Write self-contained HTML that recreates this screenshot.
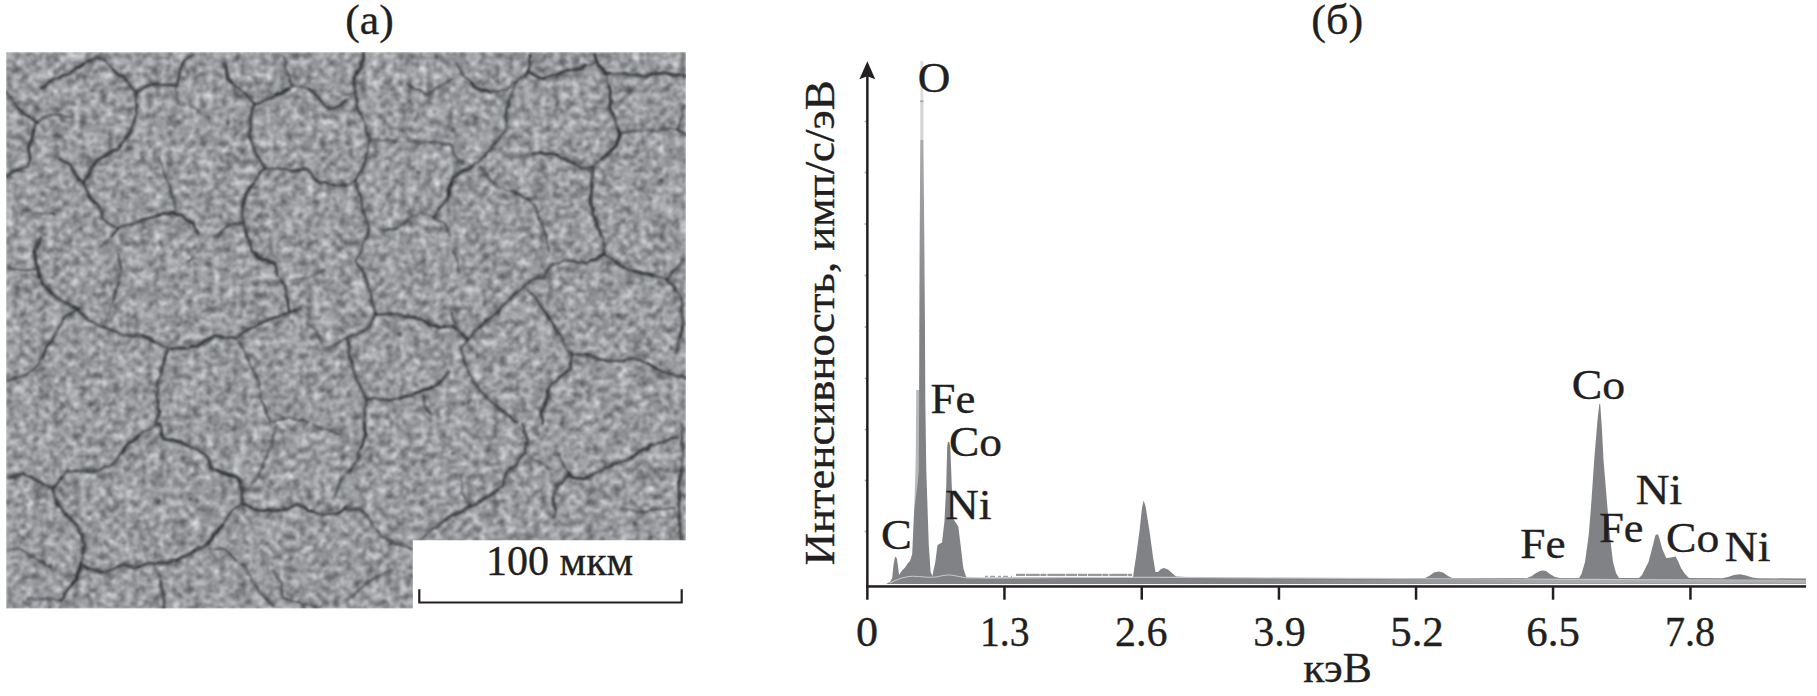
<!DOCTYPE html>
<html lang="ru"><head><meta charset="utf-8"><title>Figure</title>
<style>
html,body{margin:0;padding:0;background:#fff;}
body{width:1817px;height:696px;overflow:hidden;}
svg{display:block;}
text{font-family:"Liberation Serif",serif;font-size:42px;fill:#231f20;stroke:#231f20;stroke-width:0.35px;}
</style></head><body>
<svg width="1817" height="696" viewBox="0 0 1817 696">
<defs>
<filter id="tex" x="0" y="0" width="100%" height="100%" color-interpolation-filters="sRGB">
<feTurbulence type="fractalNoise" baseFrequency="0.15" numOctaves="3" seed="11" result="n1"/>
<feTurbulence type="fractalNoise" baseFrequency="0.06" numOctaves="2" seed="4" result="n2"/>
<feComposite in="n1" in2="n2" operator="arithmetic" k1="0" k2="0.7" k3="0.3" k4="0" result="n"/>
<feColorMatrix in="n" type="matrix" values="0.86 0 0 0 0.167  0.86 0 0 0 0.175  0.86 0 0 0 0.187  0 0 0 0 1" result="g"/>
<feGaussianBlur in="g" stdDeviation="0.85"/>
</filter>
<filter id="soft" filterUnits="userSpaceOnUse" x="0" y="40" width="700" height="580"><feGaussianBlur stdDeviation="0.85"/></filter>
<filter id="soft2" filterUnits="userSpaceOnUse" x="850" y="50" width="967" height="550"><feGaussianBlur stdDeviation="0.55"/></filter>
<linearGradient id="og" gradientUnits="userSpaceOnUse" x1="0" y1="140" x2="0" y2="331"><stop offset="0" stop-color="#a8aaad"/><stop offset="1" stop-color="#808285"/></linearGradient>
<linearGradient id="lb" gradientUnits="userSpaceOnUse" x1="1250" y1="0" x2="1806" y2="0"><stop offset="0" stop-color="#b3b5b7" stop-opacity="0"/><stop offset="0.55" stop-color="#b3b5b7" stop-opacity="0.8"/><stop offset="1" stop-color="#b3b5b7" stop-opacity="0.9"/></linearGradient>
<clipPath id="imgclip"><path d="M6 52H686V540.3H412.8V608.6H6Z"/></clipPath>
</defs>
<rect width="1817" height="696" fill="#fff"/>
<!-- SEM image -->
<g clip-path="url(#imgclip)">
<rect x="6" y="52" width="680" height="557" fill="#959799" filter="url(#tex)"/>
<g fill="none" stroke="#2b2c2e" stroke-opacity="0.8" stroke-linejoin="round" stroke-linecap="round" filter="url(#soft)">
<path d="M6.0 92.1 L8.3 94.9 L11.7 98.3 L14.0 102.8 L16.8 105.6 L18.4 109.0 L22.0 112.1 L25.0 114.7 L29.1 116.6 L34.1 120.2 L38.1 122.8" stroke-width="5.3" stroke-opacity="0.16"/>
<path d="M6.0 92.1 L8.3 94.9 L11.7 98.3 L14.0 102.8 L16.8 105.6 L18.4 109.0" stroke-width="1.4" stroke-opacity="0.77"/>
<path d="M18.4 109.0 L22.0 112.1 L25.0 114.7 L29.1 116.6" stroke-width="2.6" stroke-opacity="0.77"/>
<path d="M29.1 116.6 L34.1 120.2 L38.1 122.8" stroke-width="2.5" stroke-opacity="0.72"/>
<path d="M37.5 122.0 L42.9 118.1 L46.1 116.2 L51.3 115.2 L54.2 114.4 L59.5 114.8 L63.5 116.4 L67.7 116.8 L72.8 117.5" stroke-width="4.3" stroke-opacity="0.10"/>
<path d="M37.5 122.0 L42.9 118.1 L46.1 116.2 L51.3 115.2" stroke-width="1.7" stroke-opacity="0.59"/>
<path d="M51.3 115.2 L54.2 114.4 L59.5 114.8" stroke-width="2.0" stroke-opacity="0.60"/>
<path d="M59.5 114.8 L63.5 116.4 L67.7 116.8 L72.8 117.5" stroke-width="2.2" stroke-opacity="0.56"/>
<path d="M35.9 122.8 L34.5 127.0 L33.7 130.4 L32.7 134.9 L31.4 140.6 L28.7 145.6 L28.6 150.2 L29.7 155.3 L30.1 158.9 L29.2 162.5 L27.4 166.9 L24.0 167.4 L18.3 170.2 L14.0 170.9 L9.9 173.6 L7.3 176.3" stroke-width="5.8" stroke-opacity="0.16"/>
<path d="M35.9 122.8 L34.5 127.0 L33.7 130.4" stroke-width="3.5" stroke-opacity="0.62"/>
<path d="M33.7 130.4 L32.7 134.9 L31.4 140.6 L28.7 145.6 L28.6 150.2 L29.7 155.3 L30.1 158.9" stroke-width="2.7" stroke-opacity="0.86"/>
<path d="M30.1 158.9 L29.2 162.5 L27.4 166.9 L24.0 167.4 L18.3 170.2" stroke-width="2.2" stroke-opacity="0.71"/>
<path d="M18.3 170.2 L14.0 170.9 L9.9 173.6 L7.3 176.3" stroke-width="2.7" stroke-opacity="0.74"/>
<path d="M40.7 88.1 L44.8 86.7 L47.4 83.8 L49.8 81.5 L54.1 78.7 L58.4 78.5 L62.8 75.6 L65.9 75.1 L70.2 73.4 L72.4 71.0 L76.1 67.9 L79.2 67.0 L83.5 64.0 L87.2 61.2 L92.2 60.4 L96.9 57.3 L100.0 58.6 L104.9 60.0 L107.7 63.9 L110.9 66.8 L112.4 68.9 L115.6 72.0 L118.8 75.6 L123.7 76.6 L126.3 80.1 L128.7 83.5 L131.9 88.1 L135.6 92.1 L136.3 96.0 L135.4 100.8 L137.0 105.5 L136.0 109.6 L136.6 113.9 L135.0 117.7 L134.3 121.5 L132.7 124.5 L131.2 130.1 L129.1 134.2 L126.3 137.5 L123.4 141.3 L120.1 145.8 L118.3 149.6 L112.8 150.8 L108.7 153.3 L104.9 156.2 L101.0 157.9 L96.7 160.8 L94.2 164.3 L90.7 169.3 L88.9 175.0 L85.1 179.8 L83.5 183.0" stroke-width="5.3" stroke-opacity="0.16"/>
<path d="M40.7 88.1 L44.8 86.7 L47.4 83.8 L49.8 81.5 L54.1 78.7 L58.4 78.5 L62.8 75.6" stroke-width="2.1" stroke-opacity="0.79"/>
<path d="M62.8 75.6 L65.9 75.1 L70.2 73.4 L72.4 71.0 L76.1 67.9" stroke-width="2.5" stroke-opacity="0.74"/>
<path d="M76.1 67.9 L79.2 67.0 L83.5 64.0" stroke-width="3.0" stroke-opacity="0.90"/>
<path d="M83.5 64.0 L87.2 61.2 L92.2 60.4 L96.9 57.3 L100.0 58.6 L104.9 60.0" stroke-width="2.3" stroke-opacity="0.69"/>
<path d="M104.9 60.0 L107.7 63.9 L110.9 66.8 L112.4 68.9" stroke-width="1.5" stroke-opacity="0.70"/>
<path d="M112.4 68.9 L115.6 72.0 L118.8 75.6 L123.7 76.6 L126.3 80.1" stroke-width="2.3" stroke-opacity="0.81"/>
<path d="M126.3 80.1 L128.7 83.5 L131.9 88.1 L135.6 92.1 L136.3 96.0 L135.4 100.8 L137.0 105.5" stroke-width="1.4" stroke-opacity="0.89"/>
<path d="M137.0 105.5 L136.0 109.6 L136.6 113.9 L135.0 117.7 L134.3 121.5 L132.7 124.5 L131.2 130.1" stroke-width="2.0" stroke-opacity="0.81"/>
<path d="M131.2 130.1 L129.1 134.2 L126.3 137.5" stroke-width="2.8" stroke-opacity="0.69"/>
<path d="M126.3 137.5 L123.4 141.3 L120.1 145.8" stroke-width="2.7" stroke-opacity="0.68"/>
<path d="M120.1 145.8 L118.3 149.6 L112.8 150.8 L108.7 153.3 L104.9 156.2" stroke-width="3.1" stroke-opacity="0.71"/>
<path d="M104.9 156.2 L101.0 157.9 L96.7 160.8 L94.2 164.3" stroke-width="2.4" stroke-opacity="0.83"/>
<path d="M94.2 164.3 L90.7 169.3 L88.9 175.0 L85.1 179.8 L83.5 183.0" stroke-width="2.6" stroke-opacity="0.78"/>
<path d="M59.5 158.9 L65.4 162.2 L70.2 164.3 L71.7 167.7 L74.4 173.0 L76.8 176.3 L79.5 179.6 L83.5 183.0 L85.8 188.5 L87.7 191.8 L88.9 196.3 L91.3 199.2 L94.8 202.4 L98.2 204.4 L100.0 208.5 L101.9 212.3 L102.2 217.7 L107.6 223.1 L112.0 225.7 L118.3 228.4 L114.6 232.4 L111.6 236.4" stroke-width="5.3" stroke-opacity="0.16"/>
<path d="M59.5 158.9 L65.4 162.2 L70.2 164.3 L71.7 167.7 L74.4 173.0 L76.8 176.3 L79.5 179.6" stroke-width="3.0" stroke-opacity="0.74"/>
<path d="M79.5 179.6 L83.5 183.0 L85.8 188.5 L87.7 191.8 L88.9 196.3" stroke-width="2.9" stroke-opacity="0.63"/>
<path d="M88.9 196.3 L91.3 199.2 L94.8 202.4" stroke-width="3.1" stroke-opacity="0.83"/>
<path d="M94.8 202.4 L98.2 204.4 L100.0 208.5 L101.9 212.3" stroke-width="2.3" stroke-opacity="0.65"/>
<path d="M101.9 212.3 L102.2 217.7 L107.6 223.1 L112.0 225.7 L118.3 228.4" stroke-width="1.5" stroke-opacity="0.88"/>
<path d="M118.3 228.4 L114.6 232.4 L111.6 236.4" stroke-width="2.2" stroke-opacity="0.82"/>
<path d="M118.3 228.4 L121.8 226.3 L128.3 224.7 L131.6 224.4 L136.3 222.5 L140.9 221.1 L145.0 219.1 L150.6 217.7 L155.7 216.4 L160.7 214.6 L163.8 213.3 L168.4 213.9 L171.7 212.4 L176.2 214.3 L182.4 215.1 L185.2 218.8 L188.9 221.2 L193.1 223.1 L194.7 227.8 L198.5 233.8" stroke-width="4.8" stroke-opacity="0.16"/>
<path d="M118.3 228.4 L121.8 226.3 L128.3 224.7 L131.6 224.4 L136.3 222.5 L140.9 221.1 L145.0 219.1" stroke-width="1.6" stroke-opacity="0.78"/>
<path d="M145.0 219.1 L150.6 217.7 L155.7 216.4 L160.7 214.6 L163.8 213.3" stroke-width="2.2" stroke-opacity="0.85"/>
<path d="M163.8 213.3 L168.4 213.9 L171.7 212.4" stroke-width="2.8" stroke-opacity="0.71"/>
<path d="M171.7 212.4 L176.2 214.3 L182.4 215.1 L185.2 218.8 L188.9 221.2 L193.1 223.1" stroke-width="2.4" stroke-opacity="0.84"/>
<path d="M193.1 223.1 L194.7 227.8 L198.5 233.8" stroke-width="2.0" stroke-opacity="0.88"/>
<path d="M137.0 92.1 L141.0 89.5 L145.0 86.7 L149.5 84.8 L153.8 84.3 L158.4 84.1 L161.9 85.1 L167.0 84.7 L172.9 85.2 L177.1 85.4 L177.7 81.1 L179.2 77.4 L179.2 72.5 L181.1 68.0 L183.8 61.4 L187.9 57.5 L193.1 54.7" stroke-width="5.3" stroke-opacity="0.16"/>
<path d="M137.0 92.1 L141.0 89.5 L145.0 86.7" stroke-width="2.3" stroke-opacity="0.77"/>
<path d="M145.0 86.7 L149.5 84.8 L153.8 84.3" stroke-width="2.2" stroke-opacity="0.78"/>
<path d="M153.8 84.3 L158.4 84.1 L161.9 85.1 L167.0 84.7 L172.9 85.2 L177.1 85.4 L177.7 81.1" stroke-width="2.5" stroke-opacity="0.66"/>
<path d="M177.7 81.1 L179.2 77.4 L179.2 72.5 L181.1 68.0 L183.8 61.4" stroke-width="2.2" stroke-opacity="0.76"/>
<path d="M183.8 61.4 L187.9 57.5 L193.1 54.7" stroke-width="2.3" stroke-opacity="0.67"/>
<path d="M158.4 156.2 L159.7 161.1 L162.0 165.2 L163.2 167.6 L163.7 172.3 L165.3 176.1 L166.8 179.9 L169.1 184.2 L170.4 188.3 L171.1 192.3 L172.2 197.8 L174.4 201.7 L175.4 207.3 L174.4 212.4" stroke-width="4.3" stroke-opacity="0.10"/>
<path d="M158.4 156.2 L159.7 161.1 L162.0 165.2 L163.2 167.6 L163.7 172.3" stroke-width="1.3" stroke-opacity="0.67"/>
<path d="M163.7 172.3 L165.3 176.1 L166.8 179.9 L169.1 184.2 L170.4 188.3 L171.1 192.3" stroke-width="1.4" stroke-opacity="0.69"/>
<path d="M171.1 192.3 L172.2 197.8 L174.4 201.7 L175.4 207.3 L174.4 212.4" stroke-width="2.5" stroke-opacity="0.49"/>
<path d="M225.2 65.4 L226.4 69.2 L227.4 75.4 L227.9 78.7 L231.7 82.6 L235.9 86.7 L239.1 88.5 L242.7 91.7 L246.6 94.8 L249.1 98.3 L251.7 101.0 L254.6 104.1 L258.6 103.4 L262.6 101.5 L267.9 98.8 L271.8 97.8 L275.9 94.7 L281.3 93.4 L285.8 90.1 L289.0 88.8 L292.0 85.4 L298.1 86.5 L302.7 86.7 L309.0 89.2 L313.4 92.1 L316.1 95.2 L318.7 98.0 L321.4 101.4 L324.9 106.1 L329.4 109.5 L334.1 108.3 L340.1 105.5 L346.0 100.1" stroke-width="5.3" stroke-opacity="0.16"/>
<path d="M225.2 65.4 L226.4 69.2 L227.4 75.4 L227.9 78.7 L231.7 82.6" stroke-width="3.2" stroke-opacity="0.79"/>
<path d="M231.7 82.6 L235.9 86.7 L239.1 88.5 L242.7 91.7 L246.6 94.8" stroke-width="1.5" stroke-opacity="0.86"/>
<path d="M246.6 94.8 L249.1 98.3 L251.7 101.0" stroke-width="1.8" stroke-opacity="0.64"/>
<path d="M251.7 101.0 L254.6 104.1 L258.6 103.4" stroke-width="2.0" stroke-opacity="0.77"/>
<path d="M258.6 103.4 L262.6 101.5 L267.9 98.8 L271.8 97.8 L275.9 94.7" stroke-width="2.6" stroke-opacity="0.61"/>
<path d="M275.9 94.7 L281.3 93.4 L285.8 90.1 L289.0 88.8" stroke-width="3.2" stroke-opacity="0.89"/>
<path d="M289.0 88.8 L292.0 85.4 L298.1 86.5 L302.7 86.7 L309.0 89.2" stroke-width="1.4" stroke-opacity="0.66"/>
<path d="M309.0 89.2 L313.4 92.1 L316.1 95.2 L318.7 98.0 L321.4 101.4" stroke-width="2.6" stroke-opacity="0.76"/>
<path d="M321.4 101.4 L324.9 106.1 L329.4 109.5 L334.1 108.3" stroke-width="1.9" stroke-opacity="0.75"/>
<path d="M334.1 108.3 L340.1 105.5 L346.0 100.1" stroke-width="1.9" stroke-opacity="0.84"/>
<path d="M284.0 57.3 L286.0 61.2 L284.7 67.2 L286.7 72.0 L289.5 76.5 L289.7 80.8 L292.0 85.4" stroke-width="4.3" stroke-opacity="0.10"/>
<path d="M284.0 57.3 L286.0 61.2 L284.7 67.2 L286.7 72.0 L289.5 76.5 L289.7 80.8" stroke-width="2.1" stroke-opacity="0.59"/>
<path d="M289.7 80.8 L292.0 85.4" stroke-width="2.7" stroke-opacity="0.53"/>
<path d="M254.6 104.1 L252.6 108.4 L251.2 114.8 L250.6 118.8 L250.7 122.0 L251.0 127.9 L250.3 129.8 L249.2 134.9 L250.9 139.7 L251.8 141.9 L253.6 146.6 L254.6 150.9 L257.3 156.4 L260.1 160.2 L262.6 164.3 L265.3 168.3 L261.6 170.7 L259.4 173.4 L257.3 177.6 L254.6 180.6 L253.6 183.9 L249.2 188.5 L247.9 191.0 L245.9 194.3 L244.9 198.1 L243.4 203.4 L242.6 207.0 L242.3 211.6 L242.3 215.7 L242.8 219.3 L243.9 223.1 L244.6 227.1 L246.0 231.1 L246.6 236.4" stroke-width="5.8" stroke-opacity="0.16"/>
<path d="M254.6 104.1 L252.6 108.4 L251.2 114.8 L250.6 118.8 L250.7 122.0 L251.0 127.9 L250.3 129.8" stroke-width="3.3" stroke-opacity="0.65"/>
<path d="M250.3 129.8 L249.2 134.9 L250.9 139.7 L251.8 141.9 L253.6 146.6 L254.6 150.9 L257.3 156.4" stroke-width="2.3" stroke-opacity="0.70"/>
<path d="M257.3 156.4 L260.1 160.2 L262.6 164.3 L265.3 168.3 L261.6 170.7 L259.4 173.4" stroke-width="1.8" stroke-opacity="0.82"/>
<path d="M259.4 173.4 L257.3 177.6 L254.6 180.6 L253.6 183.9" stroke-width="1.5" stroke-opacity="0.85"/>
<path d="M253.6 183.9 L249.2 188.5 L247.9 191.0 L245.9 194.3 L244.9 198.1 L243.4 203.4 L242.6 207.0" stroke-width="2.8" stroke-opacity="0.82"/>
<path d="M242.6 207.0 L242.3 211.6 L242.3 215.7 L242.8 219.3 L243.9 223.1 L244.6 227.1 L246.0 231.1" stroke-width="1.7" stroke-opacity="0.76"/>
<path d="M246.0 231.1 L246.6 236.4" stroke-width="2.7" stroke-opacity="0.84"/>
<path d="M265.3 168.3 L268.7 168.7 L274.8 168.7 L278.6 168.3 L283.7 169.3 L285.7 168.6 L291.0 171.3 L294.7 170.9 L298.9 170.4 L302.6 169.0 L308.0 169.6 L310.8 172.6 L312.9 176.6 L316.1 180.3 L319.6 182.6 L325.8 182.1 L329.4 184.3 L333.6 185.2 L337.7 185.7 L342.6 184.7 L346.0 185.6" stroke-width="4.8" stroke-opacity="0.16"/>
<path d="M265.3 168.3 L268.7 168.7 L274.8 168.7 L278.6 168.3" stroke-width="1.6" stroke-opacity="0.79"/>
<path d="M278.6 168.3 L283.7 169.3 L285.7 168.6 L291.0 171.3 L294.7 170.9 L298.9 170.4" stroke-width="2.1" stroke-opacity="0.71"/>
<path d="M298.9 170.4 L302.6 169.0 L308.0 169.6 L310.8 172.6 L312.9 176.6 L316.1 180.3" stroke-width="2.8" stroke-opacity="0.69"/>
<path d="M316.1 180.3 L319.6 182.6 L325.8 182.1" stroke-width="2.3" stroke-opacity="0.79"/>
<path d="M325.8 182.1 L329.4 184.3 L333.6 185.2" stroke-width="2.3" stroke-opacity="0.70"/>
<path d="M333.6 185.2 L337.7 185.7 L342.6 184.7 L346.0 185.6" stroke-width="2.3" stroke-opacity="0.64"/>
<path d="M242.6 223.1 L237.6 223.9 L233.8 224.0 L227.9 225.7 L223.7 229.3 L221.2 232.4 L217.2 236.4" stroke-width="4.8" stroke-opacity="0.16"/>
<path d="M242.6 223.1 L237.6 223.9 L233.8 224.0 L227.9 225.7 L223.7 229.3 L221.2 232.4" stroke-width="2.0" stroke-opacity="0.64"/>
<path d="M221.2 232.4 L217.2 236.4" stroke-width="1.6" stroke-opacity="0.89"/>
<path d="M24.7 209.7 L30.1 210.0 L33.5 213.1 L38.1 213.7 L43.1 213.6 L45.6 213.1 L51.1 213.1 L54.1 213.7" stroke-width="3.6" stroke-opacity="0.10"/>
<path d="M24.7 209.7 L30.1 210.0 L33.5 213.1 L38.1 213.7 L43.1 213.6 L45.6 213.1 L51.1 213.1" stroke-width="1.0" stroke-opacity="0.64"/>
<path d="M51.1 213.1 L54.1 213.7" stroke-width="2.2" stroke-opacity="0.48"/>
<path d="M190.4 105.5 L194.5 107.8 L198.0 110.6 L199.9 113.4 L203.8 114.8" stroke-width="3.6" stroke-opacity="0.10"/>
<path d="M190.4 105.5 L194.5 107.8 L198.0 110.6 L199.9 113.4 L203.8 114.8" stroke-width="1.4" stroke-opacity="0.49"/>
<path d="M363.4 53.3 L363.5 58.6 L361.4 63.6 L360.7 68.0 L358.3 71.3 L355.4 74.8 L354.0 78.7 L354.1 82.8 L354.7 88.6 L355.4 92.1 L355.4 95.7 L357.2 100.9 L356.4 105.9 L358.0 110.8 L360.8 113.9 L363.0 119.4 L364.8 122.4 L366.0 126.8 L365.7 131.2 L367.7 134.1 L369.1 138.7 L368.7 142.9 L367.6 147.5 L368.0 150.7 L365.7 155.5 L366.0 158.9 L363.8 165.1 L362.0 169.6 L359.9 172.5 L356.7 177.7 L355.4 180.3 L356.5 184.6 L357.2 189.1 L359.3 193.2 L360.7 196.3 L361.5 199.6 L361.9 203.9 L362.2 208.9 L363.4 212.4 L365.5 216.6 L366.4 221.3 L368.7 225.7 L368.6 229.0 L368.1 233.0 L367.4 238.0" stroke-width="5.3" stroke-opacity="0.16"/>
<path d="M363.4 53.3 L363.5 58.6 L361.4 63.6 L360.7 68.0 L358.3 71.3 L355.4 74.8 L354.0 78.7" stroke-width="3.1" stroke-opacity="0.75"/>
<path d="M354.0 78.7 L354.1 82.8 L354.7 88.6 L355.4 92.1" stroke-width="2.2" stroke-opacity="0.70"/>
<path d="M355.4 92.1 L355.4 95.7 L357.2 100.9 L356.4 105.9 L358.0 110.8 L360.8 113.9" stroke-width="2.2" stroke-opacity="0.76"/>
<path d="M360.8 113.9 L363.0 119.4 L364.8 122.4 L366.0 126.8" stroke-width="1.5" stroke-opacity="0.70"/>
<path d="M366.0 126.8 L365.7 131.2 L367.7 134.1" stroke-width="2.0" stroke-opacity="0.71"/>
<path d="M367.7 134.1 L369.1 138.7 L368.7 142.9 L367.6 147.5 L368.0 150.7 L365.7 155.5 L366.0 158.9" stroke-width="1.7" stroke-opacity="0.61"/>
<path d="M366.0 158.9 L363.8 165.1 L362.0 169.6 L359.9 172.5 L356.7 177.7 L355.4 180.3" stroke-width="2.1" stroke-opacity="0.82"/>
<path d="M355.4 180.3 L356.5 184.6 L357.2 189.1 L359.3 193.2" stroke-width="2.1" stroke-opacity="0.70"/>
<path d="M359.3 193.2 L360.7 196.3 L361.5 199.6" stroke-width="2.3" stroke-opacity="0.77"/>
<path d="M361.5 199.6 L361.9 203.9 L362.2 208.9 L363.4 212.4 L365.5 216.6" stroke-width="1.6" stroke-opacity="0.75"/>
<path d="M365.5 216.6 L366.4 221.3 L368.7 225.7 L368.6 229.0" stroke-width="1.5" stroke-opacity="0.87"/>
<path d="M368.6 229.0 L368.1 233.0 L367.4 238.0" stroke-width="2.1" stroke-opacity="0.73"/>
<path d="M346.0 94.8 L351.7 94.2 L355.4 92.1" stroke-width="4.3" stroke-opacity="0.10"/>
<path d="M346.0 94.8 L351.7 94.2 L355.4 92.1" stroke-width="1.3" stroke-opacity="0.56"/>
<path d="M355.4 180.3 L351.3 183.6 L346.0 185.6" stroke-width="4.3" stroke-opacity="0.10"/>
<path d="M355.4 180.3 L351.3 183.6 L346.0 185.6" stroke-width="1.9" stroke-opacity="0.47"/>
<path d="M370.1 138.9 L375.0 140.3 L378.1 139.7 L382.0 140.8 L385.5 139.9 L391.1 140.2 L394.1 141.5 L398.8 142.0 L402.9 142.4 L405.2 142.2 L409.1 140.7 L414.3 140.5 L418.6 142.6 L422.5 141.6 L426.2 141.5 L430.1 142.6 L433.3 142.0 L439.2 142.2 L441.7 144.0 L445.1 143.9 L450.2 144.2 L453.1 147.7 L453.4 153.0 L455.6 156.2 L459.0 160.3 L463.6 164.3" stroke-width="3.8" stroke-opacity="0.10"/>
<path d="M370.1 138.9 L375.0 140.3 L378.1 139.7 L382.0 140.8 L385.5 139.9 L391.1 140.2 L394.1 141.5" stroke-width="1.3" stroke-opacity="0.69"/>
<path d="M394.1 141.5 L398.8 142.0 L402.9 142.4 L405.2 142.2 L409.1 140.7" stroke-width="1.0" stroke-opacity="0.50"/>
<path d="M409.1 140.7 L414.3 140.5 L418.6 142.6 L422.5 141.6 L426.2 141.5 L430.1 142.6" stroke-width="1.1" stroke-opacity="0.51"/>
<path d="M430.1 142.6 L433.3 142.0 L439.2 142.2 L441.7 144.0 L445.1 143.9 L450.2 144.2" stroke-width="2.3" stroke-opacity="0.51"/>
<path d="M450.2 144.2 L453.1 147.7 L453.4 153.0" stroke-width="2.0" stroke-opacity="0.63"/>
<path d="M453.4 153.0 L455.6 156.2 L459.0 160.3 L463.6 164.3" stroke-width="1.9" stroke-opacity="0.50"/>
<path d="M455.6 62.7 L458.9 67.7 L460.9 71.0 L463.6 76.1 L468.2 79.2 L471.4 82.6 L474.3 86.7 L477.7 88.7 L481.9 90.4 L486.3 90.1 L490.3 92.1 L493.7 91.2 L498.7 91.7 L501.6 89.9 L506.4 89.4 L509.3 87.8 L512.7 83.1 L517.1 81.4 L519.7 78.0 L525.1 76.0 L527.8 72.0 L528.9 68.8 L530.0 63.0 L529.1 60.0 L530.4 54.7" stroke-width="4.8" stroke-opacity="0.16"/>
<path d="M455.6 62.7 L458.9 67.7 L460.9 71.0 L463.6 76.1 L468.2 79.2 L471.4 82.6" stroke-width="1.3" stroke-opacity="0.80"/>
<path d="M471.4 82.6 L474.3 86.7 L477.7 88.7 L481.9 90.4 L486.3 90.1 L490.3 92.1" stroke-width="2.7" stroke-opacity="0.90"/>
<path d="M490.3 92.1 L493.7 91.2 L498.7 91.7 L501.6 89.9 L506.4 89.4 L509.3 87.8" stroke-width="1.5" stroke-opacity="0.60"/>
<path d="M509.3 87.8 L512.7 83.1 L517.1 81.4 L519.7 78.0 L525.1 76.0" stroke-width="1.3" stroke-opacity="0.73"/>
<path d="M525.1 76.0 L527.8 72.0 L528.9 68.8" stroke-width="2.2" stroke-opacity="0.83"/>
<path d="M528.9 68.8 L530.0 63.0 L529.1 60.0 L530.4 54.7" stroke-width="1.8" stroke-opacity="0.85"/>
<path d="M527.8 72.0 L532.5 73.6 L534.8 75.3 L539.5 78.0 L543.8 78.7 L547.1 77.1 L552.7 75.0 L555.6 75.4 L559.8 73.4 L564.4 71.4 L566.8 70.4 L572.8 69.8 L575.9 69.4 L581.1 68.6 L584.9 65.5 L590.9 64.6 L594.6 62.7" stroke-width="5.3" stroke-opacity="0.16"/>
<path d="M527.8 72.0 L532.5 73.6 L534.8 75.3 L539.5 78.0 L543.8 78.7" stroke-width="2.8" stroke-opacity="0.81"/>
<path d="M543.8 78.7 L547.1 77.1 L552.7 75.0 L555.6 75.4 L559.8 73.4" stroke-width="1.9" stroke-opacity="0.82"/>
<path d="M559.8 73.4 L564.4 71.4 L566.8 70.4 L572.8 69.8 L575.9 69.4 L581.1 68.6 L584.9 65.5" stroke-width="3.1" stroke-opacity="0.79"/>
<path d="M584.9 65.5 L590.9 64.6 L594.6 62.7" stroke-width="1.4" stroke-opacity="0.67"/>
<path d="M594.6 54.7 L596.5 61.0 L598.6 65.4 L602.9 69.1 L605.3 73.4 L609.4 73.2 L614.6 74.3 L618.6 74.0 L624.0 73.4 L629.2 74.8 L633.9 75.0 L637.6 75.0 L642.7 76.1 L647.1 76.0 L651.1 74.1 L657.3 73.5 L661.4 73.4 L664.5 72.8 L669.5 73.9 L674.5 75.6 L678.5 74.6 L680.5 74.7 L685.5 76.1" stroke-width="4.8" stroke-opacity="0.16"/>
<path d="M594.6 54.7 L596.5 61.0 L598.6 65.4 L602.9 69.1 L605.3 73.4 L609.4 73.2" stroke-width="3.0" stroke-opacity="0.89"/>
<path d="M609.4 73.2 L614.6 74.3 L618.6 74.0 L624.0 73.4" stroke-width="1.6" stroke-opacity="0.73"/>
<path d="M624.0 73.4 L629.2 74.8 L633.9 75.0 L637.6 75.0 L642.7 76.1 L647.1 76.0 L651.1 74.1" stroke-width="2.8" stroke-opacity="0.67"/>
<path d="M651.1 74.1 L657.3 73.5 L661.4 73.4 L664.5 72.8 L669.5 73.9 L674.5 75.6 L678.5 74.6" stroke-width="2.7" stroke-opacity="0.80"/>
<path d="M678.5 74.6 L680.5 74.7 L685.5 76.1" stroke-width="2.6" stroke-opacity="0.69"/>
<path d="M517.1 81.4 L514.9 84.9 L513.2 88.9 L511.9 92.7 L510.4 97.4 L508.8 101.0 L509.3 104.8 L506.4 108.9 L506.4 113.5 L505.8 117.5 L506.7 120.6 L506.3 124.5 L506.4 129.5 L502.6 133.7 L500.4 136.1 L498.1 140.4 L495.7 142.9 L492.4 145.2 L490.6 150.3 L487.0 152.0 L485.0 156.2 L481.7 158.2 L478.5 162.2 L475.3 163.2 L471.6 166.9 L468.2 169.5 L463.8 170.2 L460.1 172.3 L457.8 174.5 L452.9 177.6 L451.4 183.9 L448.9 188.3 L448.9 194.4 L447.6 199.0 L444.7 202.1 L442.5 204.8 L438.5 209.0 L436.9 212.4 L434.2 217.7" stroke-width="5.8" stroke-opacity="0.16"/>
<path d="M517.1 81.4 L514.9 84.9 L513.2 88.9 L511.9 92.7 L510.4 97.4 L508.8 101.0" stroke-width="1.6" stroke-opacity="0.63"/>
<path d="M508.8 101.0 L509.3 104.8 L506.4 108.9 L506.4 113.5 L505.8 117.5 L506.7 120.6" stroke-width="2.9" stroke-opacity="0.65"/>
<path d="M506.7 120.6 L506.3 124.5 L506.4 129.5 L502.6 133.7 L500.4 136.1 L498.1 140.4 L495.7 142.9" stroke-width="1.6" stroke-opacity="0.65"/>
<path d="M495.7 142.9 L492.4 145.2 L490.6 150.3 L487.0 152.0 L485.0 156.2" stroke-width="2.3" stroke-opacity="0.68"/>
<path d="M485.0 156.2 L481.7 158.2 L478.5 162.2 L475.3 163.2 L471.6 166.9" stroke-width="2.3" stroke-opacity="0.62"/>
<path d="M471.6 166.9 L468.2 169.5 L463.8 170.2 L460.1 172.3 L457.8 174.5 L452.9 177.6 L451.4 183.9" stroke-width="3.3" stroke-opacity="0.72"/>
<path d="M451.4 183.9 L448.9 188.3 L448.9 194.4" stroke-width="3.3" stroke-opacity="0.90"/>
<path d="M448.9 194.4 L447.6 199.0 L444.7 202.1 L442.5 204.8 L438.5 209.0" stroke-width="2.8" stroke-opacity="0.72"/>
<path d="M438.5 209.0 L436.9 212.4 L434.2 217.7" stroke-width="1.9" stroke-opacity="0.60"/>
<path d="M434.2 217.7 L430.6 215.8 L426.0 214.0 L420.8 212.4 L417.2 215.0 L411.2 216.7 L407.5 220.4 L404.0 223.4 L401.3 224.8 L396.8 228.4 L392.6 229.0 L387.9 229.4 L383.4 231.1" stroke-width="4.3" stroke-opacity="0.10"/>
<path d="M434.2 217.7 L430.6 215.8 L426.0 214.0 L420.8 212.4 L417.2 215.0" stroke-width="1.3" stroke-opacity="0.49"/>
<path d="M417.2 215.0 L411.2 216.7 L407.5 220.4" stroke-width="1.3" stroke-opacity="0.57"/>
<path d="M407.5 220.4 L404.0 223.4 L401.3 224.8 L396.8 228.4" stroke-width="1.6" stroke-opacity="0.66"/>
<path d="M396.8 228.4 L392.6 229.0 L387.9 229.4" stroke-width="2.7" stroke-opacity="0.57"/>
<path d="M387.9 229.4 L383.4 231.1" stroke-width="2.1" stroke-opacity="0.61"/>
<path d="M434.2 217.7 L438.6 220.9 L444.9 223.1 L447.1 228.4 L448.8 232.8 L450.2 236.4" stroke-width="3.8" stroke-opacity="0.10"/>
<path d="M434.2 217.7 L438.6 220.9 L444.9 223.1 L447.1 228.4 L448.8 232.8 L450.2 236.4" stroke-width="1.5" stroke-opacity="0.66"/>
<path d="M605.3 73.4 L607.3 77.4 L607.3 82.5 L609.3 87.2 L610.6 92.1 L609.8 96.2 L611.1 102.3 L609.6 106.3 L610.6 110.8 L613.0 114.2 L614.9 118.9 L616.0 124.2 L618.2 129.6 L620.0 134.9 L618.3 139.8 L616.0 145.6 L612.2 149.3 L608.7 153.0 L605.3 156.2 L601.8 158.8 L597.5 161.9 L595.2 163.7 L591.9 166.9 L587.1 168.2 L581.2 168.3 L577.1 165.2 L573.1 162.7 L568.4 161.1 L565.2 158.9 L560.3 157.5 L557.2 155.2 L553.5 154.0 L549.1 153.6 L545.6 154.2 L541.2 152.6 L537.1 153.3 L533.1 153.6" stroke-width="5.3" stroke-opacity="0.16"/>
<path d="M605.3 73.4 L607.3 77.4 L607.3 82.5 L609.3 87.2" stroke-width="1.4" stroke-opacity="0.62"/>
<path d="M609.3 87.2 L610.6 92.1 L609.8 96.2 L611.1 102.3 L609.6 106.3 L610.6 110.8 L613.0 114.2" stroke-width="2.8" stroke-opacity="0.84"/>
<path d="M613.0 114.2 L614.9 118.9 L616.0 124.2 L618.2 129.6" stroke-width="1.6" stroke-opacity="0.87"/>
<path d="M618.2 129.6 L620.0 134.9 L618.3 139.8 L616.0 145.6 L612.2 149.3" stroke-width="3.2" stroke-opacity="0.87"/>
<path d="M612.2 149.3 L608.7 153.0 L605.3 156.2 L601.8 158.8" stroke-width="2.7" stroke-opacity="0.82"/>
<path d="M601.8 158.8 L597.5 161.9 L595.2 163.7 L591.9 166.9" stroke-width="1.4" stroke-opacity="0.71"/>
<path d="M591.9 166.9 L587.1 168.2 L581.2 168.3 L577.1 165.2 L573.1 162.7" stroke-width="1.6" stroke-opacity="0.87"/>
<path d="M573.1 162.7 L568.4 161.1 L565.2 158.9 L560.3 157.5 L557.2 155.2" stroke-width="3.1" stroke-opacity="0.74"/>
<path d="M557.2 155.2 L553.5 154.0 L549.1 153.6 L545.6 154.2 L541.2 152.6" stroke-width="2.3" stroke-opacity="0.88"/>
<path d="M541.2 152.6 L537.1 153.3 L533.1 153.6" stroke-width="2.5" stroke-opacity="0.78"/>
<path d="M620.0 133.5 L623.7 132.6 L628.0 132.0 L633.3 131.0 L637.4 130.9 L641.0 130.6 L646.0 130.3 L650.0 129.9 L653.4 130.9 L658.2 131.2 L661.3 129.6 L665.8 129.7 L669.4 128.2 L672.9 128.9 L677.4 129.5 L682.5 132.7 L686.0 134.9" stroke-width="4.3" stroke-opacity="0.10"/>
<path d="M620.0 133.5 L623.7 132.6 L628.0 132.0 L633.3 131.0 L637.4 130.9" stroke-width="1.5" stroke-opacity="0.70"/>
<path d="M637.4 130.9 L641.0 130.6 L646.0 130.3 L650.0 129.9 L653.4 130.9 L658.2 131.2 L661.3 129.6" stroke-width="1.3" stroke-opacity="0.53"/>
<path d="M661.3 129.6 L665.8 129.7 L669.4 128.2" stroke-width="1.8" stroke-opacity="0.49"/>
<path d="M669.4 128.2 L672.9 128.9 L677.4 129.5" stroke-width="1.6" stroke-opacity="0.58"/>
<path d="M677.4 129.5 L682.5 132.7 L686.0 134.9" stroke-width="2.1" stroke-opacity="0.70"/>
<path d="M677.4 129.5 L679.4 125.4 L680.6 119.5 L682.8 116.2 L682.4 110.0 L684.1 105.5" stroke-width="4.3" stroke-opacity="0.10"/>
<path d="M677.4 129.5 L679.4 125.4 L680.6 119.5 L682.8 116.2 L682.4 110.0 L684.1 105.5" stroke-width="2.1" stroke-opacity="0.55"/>
<path d="M593.2 168.3 L592.6 171.6 L592.6 177.2 L591.2 180.3 L591.9 185.6 L591.7 189.2 L591.3 193.7 L590.7 197.2 L590.6 201.7 L590.8 205.4 L593.3 209.0 L592.5 214.4 L594.6 217.7 L596.7 222.3 L597.0 226.3 L600.0 231.2 L601.3 236.4" stroke-width="5.3" stroke-opacity="0.16"/>
<path d="M593.2 168.3 L592.6 171.6 L592.6 177.2 L591.2 180.3 L591.9 185.6" stroke-width="3.2" stroke-opacity="0.62"/>
<path d="M591.9 185.6 L591.7 189.2 L591.3 193.7 L590.7 197.2 L590.6 201.7 L590.8 205.4 L593.3 209.0" stroke-width="3.1" stroke-opacity="0.78"/>
<path d="M593.3 209.0 L592.5 214.4 L594.6 217.7 L596.7 222.3 L597.0 226.3 L600.0 231.2 L601.3 236.4" stroke-width="2.2" stroke-opacity="0.88"/>
<path d="M479.6 166.9 L482.8 169.7 L485.9 172.6 L487.7 176.8 L490.3 180.3 L493.8 183.3 L498.4 188.3 L503.4 188.1 L507.4 191.1 L511.7 191.0 L514.9 192.3 L520.0 195.0 L524.1 197.7 L527.8 199.0 L531.1 202.6 L535.8 207.0 L536.7 211.4 L538.5 217.7 L540.9 222.1 L542.1 224.1 L544.0 229.5 L544.8 233.2 L546.5 236.4" stroke-width="4.3" stroke-opacity="0.10"/>
<path d="M479.6 166.9 L482.8 169.7 L485.9 172.6 L487.7 176.8 L490.3 180.3 L493.8 183.3" stroke-width="1.4" stroke-opacity="0.70"/>
<path d="M493.8 183.3 L498.4 188.3 L503.4 188.1 L507.4 191.1 L511.7 191.0" stroke-width="1.5" stroke-opacity="0.46"/>
<path d="M511.7 191.0 L514.9 192.3 L520.0 195.0 L524.1 197.7 L527.8 199.0" stroke-width="2.5" stroke-opacity="0.68"/>
<path d="M527.8 199.0 L531.1 202.6 L535.8 207.0 L536.7 211.4 L538.5 217.7" stroke-width="2.2" stroke-opacity="0.52"/>
<path d="M538.5 217.7 L540.9 222.1 L542.1 224.1 L544.0 229.5 L544.8 233.2 L546.5 236.4" stroke-width="2.2" stroke-opacity="0.62"/>
<path d="M407.5 84.1 L412.1 87.3 L414.5 89.3 L419.6 89.6 L422.5 91.9 L426.2 94.8 L431.5 92.8 L434.4 88.7 L439.6 86.7 L444.9 83.4 L448.2 81.6 L452.9 78.7" stroke-width="3.6" stroke-opacity="0.10"/>
<path d="M407.5 84.1 L412.1 87.3 L414.5 89.3 L419.6 89.6 L422.5 91.9 L426.2 94.8" stroke-width="2.1" stroke-opacity="0.61"/>
<path d="M426.2 94.8 L431.5 92.8 L434.4 88.7 L439.6 86.7 L444.9 83.4 L448.2 81.6 L452.9 78.7" stroke-width="1.5" stroke-opacity="0.66"/>
<path d="M40.7 238.0 L39.0 243.2 L36.2 247.4 L34.1 251.4 L35.2 255.0 L35.4 259.7 L36.1 264.3 L38.1 267.4 L38.3 270.4 L39.2 276.4 L40.7 278.6 L42.1 283.4 L44.1 285.4 L48.5 289.7 L51.5 293.0 L54.1 295.5 L57.6 298.3 L62.7 301.5 L67.5 303.5 L73.5 307.0 L78.2 308.8 L79.9 312.6 L84.4 315.8 L85.3 317.2 L88.9 320.9 L91.8 321.4 L97.1 324.8 L100.4 326.4 L104.1 326.8 L107.6 328.9 L110.7 329.7 L116.2 331.6 L119.2 333.7 L123.6 335.6 L127.2 335.0 L132.5 336.0 L137.4 335.2 L142.3 335.6 L147.4 337.6 L151.1 339.8 L153.3 341.4 L158.4 343.6 L162.7 346.0 L166.9 347.6 L171.7 348.9 L175.8 348.3 L180.5 348.0 L184.5 348.2 L187.8 348.9 L191.1 346.5 L197.2 346.4 L201.1 343.6 L204.5 340.9 L210.0 338.9 L214.5 335.6 L218.1 336.1 L222.7 337.4 L226.8 338.1 L231.1 337.1 L235.9 338.2 L239.9 335.6 L242.1 333.2 L246.6 330.2 L249.7 328.8 L255.0 326.8 L258.9 323.9 L262.6 322.2 L266.4 320.6 L271.5 318.6 L275.5 317.1 L278.6 316.9 L282.4 314.5 L288.4 313.3 L292.0 311.5 L295.8 310.6 L300.0 308.0" stroke-width="5.8" stroke-opacity="0.16"/>
<path d="M40.7 238.0 L39.0 243.2 L36.2 247.4 L34.1 251.4" stroke-width="3.5" stroke-opacity="0.64"/>
<path d="M34.1 251.4 L35.2 255.0 L35.4 259.7 L36.1 264.3 L38.1 267.4 L38.3 270.4 L39.2 276.4" stroke-width="3.1" stroke-opacity="0.83"/>
<path d="M39.2 276.4 L40.7 278.6 L42.1 283.4" stroke-width="2.2" stroke-opacity="0.70"/>
<path d="M42.1 283.4 L44.1 285.4 L48.5 289.7 L51.5 293.0" stroke-width="3.3" stroke-opacity="0.74"/>
<path d="M51.5 293.0 L54.1 295.5 L57.6 298.3 L62.7 301.5 L67.5 303.5 L73.5 307.0 L78.2 308.8" stroke-width="3.0" stroke-opacity="0.65"/>
<path d="M78.2 308.8 L79.9 312.6 L84.4 315.8 L85.3 317.2 L88.9 320.9 L91.8 321.4" stroke-width="2.9" stroke-opacity="0.68"/>
<path d="M91.8 321.4 L97.1 324.8 L100.4 326.4 L104.1 326.8" stroke-width="1.7" stroke-opacity="0.74"/>
<path d="M104.1 326.8 L107.6 328.9 L110.7 329.7 L116.2 331.6" stroke-width="2.5" stroke-opacity="0.68"/>
<path d="M116.2 331.6 L119.2 333.7 L123.6 335.6 L127.2 335.0 L132.5 336.0 L137.4 335.2 L142.3 335.6" stroke-width="1.8" stroke-opacity="0.65"/>
<path d="M142.3 335.6 L147.4 337.6 L151.1 339.8 L153.3 341.4" stroke-width="3.0" stroke-opacity="0.78"/>
<path d="M153.3 341.4 L158.4 343.6 L162.7 346.0 L166.9 347.6 L171.7 348.9" stroke-width="1.8" stroke-opacity="0.70"/>
<path d="M171.7 348.9 L175.8 348.3 L180.5 348.0 L184.5 348.2" stroke-width="2.0" stroke-opacity="0.89"/>
<path d="M184.5 348.2 L187.8 348.9 L191.1 346.5" stroke-width="1.8" stroke-opacity="0.80"/>
<path d="M191.1 346.5 L197.2 346.4 L201.1 343.6 L204.5 340.9" stroke-width="2.3" stroke-opacity="0.90"/>
<path d="M204.5 340.9 L210.0 338.9 L214.5 335.6 L218.1 336.1 L222.7 337.4" stroke-width="3.0" stroke-opacity="0.73"/>
<path d="M222.7 337.4 L226.8 338.1 L231.1 337.1 L235.9 338.2" stroke-width="1.7" stroke-opacity="0.87"/>
<path d="M235.9 338.2 L239.9 335.6 L242.1 333.2 L246.6 330.2 L249.7 328.8" stroke-width="1.9" stroke-opacity="0.72"/>
<path d="M249.7 328.8 L255.0 326.8 L258.9 323.9" stroke-width="1.5" stroke-opacity="0.86"/>
<path d="M258.9 323.9 L262.6 322.2 L266.4 320.6 L271.5 318.6 L275.5 317.1 L278.6 316.9" stroke-width="2.9" stroke-opacity="0.75"/>
<path d="M278.6 316.9 L282.4 314.5 L288.4 313.3 L292.0 311.5 L295.8 310.6" stroke-width="2.4" stroke-opacity="0.64"/>
<path d="M295.8 310.6 L300.0 308.0" stroke-width="3.0" stroke-opacity="0.60"/>
<path d="M8.7 267.4 L12.6 269.1 L18.0 269.4 L22.0 270.1 L27.3 270.4 L32.2 269.5 L36.7 268.7" stroke-width="3.8" stroke-opacity="0.10"/>
<path d="M8.7 267.4 L12.6 269.1 L18.0 269.4 L22.0 270.1 L27.3 270.4 L32.2 269.5 L36.7 268.7" stroke-width="2.2" stroke-opacity="0.62"/>
<path d="M78.2 308.8 L74.8 311.1 L70.4 313.8 L66.3 315.7 L63.5 318.2 L62.1 322.7 L59.7 325.7 L57.3 330.1 L55.4 334.2 L53.4 337.4 L51.2 341.9 L47.7 344.6 L46.1 347.6 L45.0 351.4 L42.7 356.7 L40.1 359.7 L39.4 363.6 L35.7 366.9 L34.4 369.0 L29.5 371.8 L27.4 374.3 L23.0 376.1 L18.5 377.3 L14.0 378.3 L7.3 381.0" stroke-width="4.8" stroke-opacity="0.16"/>
<path d="M78.2 308.8 L74.8 311.1 L70.4 313.8 L66.3 315.7 L63.5 318.2" stroke-width="2.1" stroke-opacity="0.72"/>
<path d="M63.5 318.2 L62.1 322.7 L59.7 325.7 L57.3 330.1 L55.4 334.2 L53.4 337.4" stroke-width="1.6" stroke-opacity="0.81"/>
<path d="M53.4 337.4 L51.2 341.9 L47.7 344.6 L46.1 347.6 L45.0 351.4 L42.7 356.7" stroke-width="2.1" stroke-opacity="0.88"/>
<path d="M42.7 356.7 L40.1 359.7 L39.4 363.6 L35.7 366.9 L34.4 369.0 L29.5 371.8 L27.4 374.3" stroke-width="1.8" stroke-opacity="0.62"/>
<path d="M27.4 374.3 L23.0 376.1 L18.5 377.3 L14.0 378.3 L7.3 381.0" stroke-width="1.9" stroke-opacity="0.62"/>
<path d="M108.9 239.3 L104.9 242.9 L103.0 245.1 L99.6 247.4" stroke-width="4.3" stroke-opacity="0.10"/>
<path d="M108.9 239.3 L104.9 242.9 L103.0 245.1 L99.6 247.4" stroke-width="1.5" stroke-opacity="0.51"/>
<path d="M118.3 254.0 L119.5 259.7 L119.7 262.8 L120.9 267.8 L120.9 272.7 L119.0 276.6 L118.9 282.8 L117.2 286.7 L115.6 291.5 L114.4 294.9 L113.9 299.2 L111.9 304.2 L110.2 307.5 L109.6 311.9 L107.1 316.5 L106.2 320.9" stroke-width="4.3" stroke-opacity="0.10"/>
<path d="M118.3 254.0 L119.5 259.7 L119.7 262.8 L120.9 267.8" stroke-width="2.3" stroke-opacity="0.57"/>
<path d="M120.9 267.8 L120.9 272.7 L119.0 276.6 L118.9 282.8" stroke-width="1.5" stroke-opacity="0.54"/>
<path d="M118.9 282.8 L117.2 286.7 L115.6 291.5 L114.4 294.9 L113.9 299.2" stroke-width="2.7" stroke-opacity="0.62"/>
<path d="M113.9 299.2 L111.9 304.2 L110.2 307.5 L109.6 311.9 L107.1 316.5 L106.2 320.9" stroke-width="1.1" stroke-opacity="0.63"/>
<path d="M167.7 350.3 L165.9 354.2 L164.6 359.1 L163.7 363.6 L162.2 367.9 L161.4 371.3 L160.6 376.4 L158.4 379.7 L157.0 385.1 L158.6 389.6 L156.6 394.4 L157.0 398.4 L158.2 401.8 L157.7 408.3 L159.7 411.7 L158.0 416.5 L155.7 422.4" stroke-width="4.8" stroke-opacity="0.16"/>
<path d="M167.7 350.3 L165.9 354.2 L164.6 359.1" stroke-width="2.2" stroke-opacity="0.86"/>
<path d="M164.6 359.1 L163.7 363.6 L162.2 367.9 L161.4 371.3" stroke-width="2.6" stroke-opacity="0.70"/>
<path d="M161.4 371.3 L160.6 376.4 L158.4 379.7 L157.0 385.1" stroke-width="1.6" stroke-opacity="0.72"/>
<path d="M157.0 385.1 L158.6 389.6 L156.6 394.4 L157.0 398.4 L158.2 401.8 L157.7 408.3 L159.7 411.7" stroke-width="1.5" stroke-opacity="0.87"/>
<path d="M159.7 411.7 L158.0 416.5 L155.7 422.4" stroke-width="3.0" stroke-opacity="0.63"/>
<path d="M247.9 238.0 L250.1 242.6 L250.9 246.5 L251.9 251.4 L255.5 253.4 L258.1 257.5 L262.6 259.4 L267.0 259.9 L269.8 261.9 L274.6 263.4 L276.2 267.3 L276.5 271.4 L277.3 275.4 L280.9 279.4 L282.1 281.8 L285.3 286.1 L286.2 291.3 L285.9 295.1 L287.8 300.1 L288.0 304.8 L289.3 311.5" stroke-width="4.8" stroke-opacity="0.16"/>
<path d="M247.9 238.0 L250.1 242.6 L250.9 246.5 L251.9 251.4 L255.5 253.4" stroke-width="2.7" stroke-opacity="0.71"/>
<path d="M255.5 253.4 L258.1 257.5 L262.6 259.4 L267.0 259.9 L269.8 261.9 L274.6 263.4" stroke-width="3.0" stroke-opacity="0.80"/>
<path d="M274.6 263.4 L276.2 267.3 L276.5 271.4 L277.3 275.4" stroke-width="2.3" stroke-opacity="0.79"/>
<path d="M277.3 275.4 L280.9 279.4 L282.1 281.8" stroke-width="1.2" stroke-opacity="0.61"/>
<path d="M282.1 281.8 L285.3 286.1 L286.2 291.3 L285.9 295.1 L287.8 300.1" stroke-width="2.7" stroke-opacity="0.63"/>
<path d="M287.8 300.1 L288.0 304.8 L289.3 311.5" stroke-width="2.1" stroke-opacity="0.87"/>
<path d="M289.3 280.8 L293.0 280.6 L299.0 279.1 L304.2 278.5 L308.0 278.1 L312.0 276.1 L316.7 273.4 L319.9 271.9 L324.1 270.1" stroke-width="3.6" stroke-opacity="0.10"/>
<path d="M289.3 280.8 L293.0 280.6 L299.0 279.1 L304.2 278.5 L308.0 278.1 L312.0 276.1 L316.7 273.4" stroke-width="1.0" stroke-opacity="0.52"/>
<path d="M316.7 273.4 L319.9 271.9 L324.1 270.1" stroke-width="2.0" stroke-opacity="0.55"/>
<path d="M306.7 323.5 L311.4 326.4 L316.1 330.2 L317.7 334.9 L319.7 338.2 L320.7 340.8 L322.7 344.9 L324.1 348.9 L328.1 347.3 L333.3 346.0 L337.4 343.6 L340.7 341.4 L346.0 338.2" stroke-width="4.3" stroke-opacity="0.10"/>
<path d="M306.7 323.5 L311.4 326.4 L316.1 330.2 L317.7 334.9 L319.7 338.2 L320.7 340.8" stroke-width="2.0" stroke-opacity="0.46"/>
<path d="M320.7 340.8 L322.7 344.9 L324.1 348.9 L328.1 347.3 L333.3 346.0" stroke-width="1.3" stroke-opacity="0.46"/>
<path d="M333.3 346.0 L337.4 343.6 L340.7 341.4 L346.0 338.2" stroke-width="2.1" stroke-opacity="0.61"/>
<path d="M238.5 340.9 L241.2 345.5 L242.8 348.5 L244.8 352.4 L246.6 355.6 L248.8 360.4 L249.9 364.7 L252.5 369.2 L254.6 373.0 L256.4 377.0 L259.9 382.3 L258.9 387.4 L260.8 391.6 L259.9 395.7 L261.4 400.9 L264.1 404.8 L265.3 409.1 L266.5 413.1 L268.7 417.6 L270.6 422.4" stroke-width="3.8" stroke-opacity="0.10"/>
<path d="M238.5 340.9 L241.2 345.5 L242.8 348.5 L244.8 352.4 L246.6 355.6 L248.8 360.4" stroke-width="1.8" stroke-opacity="0.59"/>
<path d="M248.8 360.4 L249.9 364.7 L252.5 369.2" stroke-width="1.7" stroke-opacity="0.58"/>
<path d="M252.5 369.2 L254.6 373.0 L256.4 377.0" stroke-width="2.1" stroke-opacity="0.56"/>
<path d="M256.4 377.0 L259.9 382.3 L258.9 387.4 L260.8 391.6 L259.9 395.7 L261.4 400.9" stroke-width="1.6" stroke-opacity="0.45"/>
<path d="M261.4 400.9 L264.1 404.8 L265.3 409.1 L266.5 413.1 L268.7 417.6 L270.6 422.4" stroke-width="1.8" stroke-opacity="0.70"/>
<path d="M206.5 239.3 L204.1 242.6 L201.7 247.5 L198.5 251.4 L194.0 254.9 L192.2 258.8 L187.8 262.1" stroke-width="3.1" stroke-opacity="0.10"/>
<path d="M206.5 239.3 L204.1 242.6 L201.7 247.5 L198.5 251.4 L194.0 254.9 L192.2 258.8" stroke-width="0.8" stroke-opacity="0.62"/>
<path d="M192.2 258.8 L187.8 262.1" stroke-width="1.9" stroke-opacity="0.66"/>
<path d="M273.3 422.4 L276.7 420.3 L281.3 419.3 L285.5 418.3 L289.3 417.1 L294.5 419.4 L298.4 420.3 L303.8 420.3 L308.0 422.4" stroke-width="3.4" stroke-opacity="0.10"/>
<path d="M273.3 422.4 L276.7 420.3 L281.3 419.3" stroke-width="1.2" stroke-opacity="0.59"/>
<path d="M281.3 419.3 L285.5 418.3 L289.3 417.1 L294.5 419.4 L298.4 420.3 L303.8 420.3" stroke-width="1.4" stroke-opacity="0.68"/>
<path d="M303.8 420.3 L308.0 422.4" stroke-width="2.0" stroke-opacity="0.46"/>
<path d="M366.0 238.0 L363.0 242.4 L362.0 248.7 L360.7 253.1 L357.8 256.5 L355.4 260.7 L357.6 264.9 L361.7 269.5 L363.4 272.7 L365.0 276.4 L367.0 281.3 L367.3 284.0 L368.7 288.8 L370.6 292.4 L371.5 297.0 L371.4 302.2 L373.4 306.1 L374.7 310.1 L375.4 314.2 L373.1 318.7 L371.5 321.7 L370.1 326.2 L366.8 328.8 L363.6 330.9 L359.4 332.9 L356.2 335.2 L350.3 335.7 L347.3 338.2 L348.5 343.3 L349.3 347.5 L348.7 352.9 L349.8 357.3 L351.9 361.7 L352.6 367.4 L354.0 371.6 L355.3 375.1 L356.6 380.6 L359.6 384.3 L360.7 387.7 L362.9 392.2 L366.0 398.4 L366.5 403.9 L364.4 408.3 L364.7 411.7 L364.9 415.9 L364.4 419.9 L363.4 424.0" stroke-width="5.3" stroke-opacity="0.16"/>
<path d="M366.0 238.0 L363.0 242.4 L362.0 248.7 L360.7 253.1 L357.8 256.5 L355.4 260.7 L357.6 264.9" stroke-width="1.5" stroke-opacity="0.77"/>
<path d="M357.6 264.9 L361.7 269.5 L363.4 272.7 L365.0 276.4 L367.0 281.3 L367.3 284.0" stroke-width="1.7" stroke-opacity="0.83"/>
<path d="M367.3 284.0 L368.7 288.8 L370.6 292.4 L371.5 297.0" stroke-width="1.9" stroke-opacity="0.62"/>
<path d="M371.5 297.0 L371.4 302.2 L373.4 306.1 L374.7 310.1 L375.4 314.2 L373.1 318.7" stroke-width="2.2" stroke-opacity="0.66"/>
<path d="M373.1 318.7 L371.5 321.7 L370.1 326.2 L366.8 328.8 L363.6 330.9" stroke-width="2.5" stroke-opacity="0.60"/>
<path d="M363.6 330.9 L359.4 332.9 L356.2 335.2 L350.3 335.7 L347.3 338.2 L348.5 343.3" stroke-width="2.2" stroke-opacity="0.63"/>
<path d="M348.5 343.3 L349.3 347.5 L348.7 352.9 L349.8 357.3 L351.9 361.7" stroke-width="2.8" stroke-opacity="0.67"/>
<path d="M351.9 361.7 L352.6 367.4 L354.0 371.6 L355.3 375.1 L356.6 380.6 L359.6 384.3 L360.7 387.7" stroke-width="2.4" stroke-opacity="0.68"/>
<path d="M360.7 387.7 L362.9 392.2 L366.0 398.4 L366.5 403.9 L364.4 408.3 L364.7 411.7 L364.9 415.9" stroke-width="2.0" stroke-opacity="0.75"/>
<path d="M364.9 415.9 L364.4 419.9 L363.4 424.0" stroke-width="1.7" stroke-opacity="0.66"/>
<path d="M375.4 314.2 L378.7 314.6 L383.1 314.3 L387.2 314.2 L391.4 314.2 L395.3 313.8 L401.9 315.2 L404.6 316.5 L410.2 316.9 L414.8 317.4 L418.4 319.2 L422.2 319.8 L426.2 322.2 L429.6 325.1 L435.9 325.7 L439.6 327.5 L444.2 326.6 L449.1 326.5 L452.9 326.2 L457.9 330.1 L460.9 332.9 L465.0 337.3 L467.6 339.6" stroke-width="4.8" stroke-opacity="0.16"/>
<path d="M375.4 314.2 L378.7 314.6 L383.1 314.3 L387.2 314.2 L391.4 314.2" stroke-width="2.7" stroke-opacity="0.70"/>
<path d="M391.4 314.2 L395.3 313.8 L401.9 315.2 L404.6 316.5" stroke-width="1.9" stroke-opacity="0.61"/>
<path d="M404.6 316.5 L410.2 316.9 L414.8 317.4" stroke-width="2.2" stroke-opacity="0.86"/>
<path d="M414.8 317.4 L418.4 319.2 L422.2 319.8 L426.2 322.2 L429.6 325.1 L435.9 325.7" stroke-width="2.1" stroke-opacity="0.85"/>
<path d="M435.9 325.7 L439.6 327.5 L444.2 326.6" stroke-width="2.8" stroke-opacity="0.79"/>
<path d="M444.2 326.6 L449.1 326.5 L452.9 326.2" stroke-width="2.5" stroke-opacity="0.63"/>
<path d="M452.9 326.2 L457.9 330.1 L460.9 332.9 L465.0 337.3 L467.6 339.6" stroke-width="2.2" stroke-opacity="0.79"/>
<path d="M467.6 339.6 L471.7 336.4 L473.6 332.3 L477.0 328.9 L479.6 327.2 L484.7 322.9 L486.0 320.3 L490.3 318.2 L493.6 315.5 L498.4 311.8 L501.0 307.5 L503.4 304.8 L508.2 301.1 L512.1 296.5 L514.4 294.1 L517.0 292.0 L522.0 289.2 L524.0 286.3 L527.8 283.4 L532.3 279.9 L535.8 278.1 L539.4 277.6 L543.8 278.1 L545.6 273.6 L548.4 268.6 L551.8 264.7 L555.0 264.1 L558.8 263.2 L563.2 260.7 L567.9 260.7 L573.5 260.8 L578.2 262.9 L582.7 261.9 L586.6 263.4 L590.8 260.2 L596.2 259.5 L599.9 256.3 L603.9 254.0" stroke-width="5.8" stroke-opacity="0.16"/>
<path d="M467.6 339.6 L471.7 336.4 L473.6 332.3 L477.0 328.9 L479.6 327.2" stroke-width="2.1" stroke-opacity="0.67"/>
<path d="M479.6 327.2 L484.7 322.9 L486.0 320.3" stroke-width="2.8" stroke-opacity="0.64"/>
<path d="M486.0 320.3 L490.3 318.2 L493.6 315.5 L498.4 311.8" stroke-width="3.0" stroke-opacity="0.65"/>
<path d="M498.4 311.8 L501.0 307.5 L503.4 304.8 L508.2 301.1 L512.1 296.5 L514.4 294.1" stroke-width="2.6" stroke-opacity="0.64"/>
<path d="M514.4 294.1 L517.0 292.0 L522.0 289.2 L524.0 286.3" stroke-width="2.0" stroke-opacity="0.72"/>
<path d="M524.0 286.3 L527.8 283.4 L532.3 279.9 L535.8 278.1" stroke-width="1.5" stroke-opacity="0.77"/>
<path d="M535.8 278.1 L539.4 277.6 L543.8 278.1 L545.6 273.6 L548.4 268.6" stroke-width="2.2" stroke-opacity="0.65"/>
<path d="M548.4 268.6 L551.8 264.7 L555.0 264.1 L558.8 263.2 L563.2 260.7 L567.9 260.7" stroke-width="1.7" stroke-opacity="0.74"/>
<path d="M567.9 260.7 L573.5 260.8 L578.2 262.9 L582.7 261.9 L586.6 263.4 L590.8 260.2" stroke-width="1.7" stroke-opacity="0.89"/>
<path d="M590.8 260.2 L596.2 259.5 L599.9 256.3" stroke-width="2.8" stroke-opacity="0.84"/>
<path d="M599.9 256.3 L603.9 254.0" stroke-width="2.6" stroke-opacity="0.85"/>
<path d="M603.9 238.0 L603.1 242.6 L605.0 245.9 L603.4 249.5 L603.9 254.0 L607.4 256.5 L611.8 258.6 L616.0 262.1 L621.2 265.8 L624.1 267.7 L629.3 270.1 L633.9 271.1 L638.7 272.0 L644.0 274.1 L648.0 274.1 L652.3 275.1 L656.4 276.6 L661.6 277.4 L666.8 279.4 L670.2 276.4 L671.5 272.5 L674.8 270.1 L677.7 267.2 L681.0 263.5 L682.8 259.4" stroke-width="5.3" stroke-opacity="0.16"/>
<path d="M603.9 238.0 L603.1 242.6 L605.0 245.9 L603.4 249.5 L603.9 254.0" stroke-width="1.7" stroke-opacity="0.64"/>
<path d="M603.9 254.0 L607.4 256.5 L611.8 258.6 L616.0 262.1" stroke-width="2.5" stroke-opacity="0.66"/>
<path d="M616.0 262.1 L621.2 265.8 L624.1 267.7" stroke-width="2.7" stroke-opacity="0.76"/>
<path d="M624.1 267.7 L629.3 270.1 L633.9 271.1" stroke-width="2.3" stroke-opacity="0.70"/>
<path d="M633.9 271.1 L638.7 272.0 L644.0 274.1 L648.0 274.1 L652.3 275.1" stroke-width="3.0" stroke-opacity="0.86"/>
<path d="M652.3 275.1 L656.4 276.6 L661.6 277.4 L666.8 279.4 L670.2 276.4 L671.5 272.5" stroke-width="1.5" stroke-opacity="0.72"/>
<path d="M671.5 272.5 L674.8 270.1 L677.7 267.2 L681.0 263.5 L682.8 259.4" stroke-width="1.6" stroke-opacity="0.80"/>
<path d="M666.8 279.4 L668.9 282.7 L673.2 284.6 L674.8 288.8 L677.4 292.5 L680.0 295.6 L681.5 299.5 L682.7 305.2 L681.2 308.5 L681.9 314.2 L682.8 318.2 L683.0 323.5 L682.3 327.7 L681.7 331.8 L680.1 336.9 L678.3 341.4 L678.0 343.9 L677.8 348.1 L676.1 352.9" stroke-width="4.8" stroke-opacity="0.16"/>
<path d="M666.8 279.4 L668.9 282.7 L673.2 284.6 L674.8 288.8" stroke-width="2.9" stroke-opacity="0.67"/>
<path d="M674.8 288.8 L677.4 292.5 L680.0 295.6 L681.5 299.5" stroke-width="1.5" stroke-opacity="0.69"/>
<path d="M681.5 299.5 L682.7 305.2 L681.2 308.5 L681.9 314.2 L682.8 318.2 L683.0 323.5 L682.3 327.7" stroke-width="2.7" stroke-opacity="0.61"/>
<path d="M682.3 327.7 L681.7 331.8 L680.1 336.9" stroke-width="2.9" stroke-opacity="0.82"/>
<path d="M680.1 336.9 L678.3 341.4 L678.0 343.9 L677.8 348.1 L676.1 352.9" stroke-width="1.2" stroke-opacity="0.78"/>
<path d="M527.8 290.1 L530.6 293.2 L533.6 295.3 L536.6 299.6 L538.5 302.2 L540.1 305.3 L543.8 310.2 L546.0 313.3 L549.1 318.2 L551.6 321.4 L554.7 327.0 L556.4 330.4 L559.8 334.2 L562.2 337.9 L564.1 344.1 L565.2 347.6 L568.3 350.8 L571.9 354.3 L577.5 354.3 L581.4 355.2 L586.6 354.3 L591.2 355.3 L594.0 356.6 L598.5 359.3 L602.6 359.6 L607.3 360.9 L611.3 361.1 L613.6 360.7 L618.6 361.0 L624.1 361.0 L627.0 359.0 L632.0 358.3 L636.3 359.3 L640.1 360.0 L643.9 362.3 L648.0 363.6 L651.4 365.5 L658.0 369.6 L661.4 371.6 L667.7 373.3 L672.1 374.3 L677.4 376.5 L682.2 376.0 L686.0 378.3" stroke-width="4.8" stroke-opacity="0.16"/>
<path d="M527.8 290.1 L530.6 293.2 L533.6 295.3 L536.6 299.6 L538.5 302.2 L540.1 305.3 L543.8 310.2" stroke-width="1.7" stroke-opacity="0.80"/>
<path d="M543.8 310.2 L546.0 313.3 L549.1 318.2 L551.6 321.4 L554.7 327.0" stroke-width="2.3" stroke-opacity="0.84"/>
<path d="M554.7 327.0 L556.4 330.4 L559.8 334.2" stroke-width="2.3" stroke-opacity="0.68"/>
<path d="M559.8 334.2 L562.2 337.9 L564.1 344.1 L565.2 347.6 L568.3 350.8 L571.9 354.3 L577.5 354.3" stroke-width="1.2" stroke-opacity="0.67"/>
<path d="M577.5 354.3 L581.4 355.2 L586.6 354.3" stroke-width="1.7" stroke-opacity="0.69"/>
<path d="M586.6 354.3 L591.2 355.3 L594.0 356.6 L598.5 359.3" stroke-width="1.4" stroke-opacity="0.78"/>
<path d="M598.5 359.3 L602.6 359.6 L607.3 360.9 L611.3 361.1 L613.6 360.7 L618.6 361.0 L624.1 361.0" stroke-width="2.8" stroke-opacity="0.63"/>
<path d="M624.1 361.0 L627.0 359.0 L632.0 358.3 L636.3 359.3 L640.1 360.0 L643.9 362.3 L648.0 363.6" stroke-width="2.2" stroke-opacity="0.64"/>
<path d="M648.0 363.6 L651.4 365.5 L658.0 369.6" stroke-width="2.1" stroke-opacity="0.87"/>
<path d="M658.0 369.6 L661.4 371.6 L667.7 373.3 L672.1 374.3 L677.4 376.5 L682.2 376.0" stroke-width="2.2" stroke-opacity="0.68"/>
<path d="M682.2 376.0 L686.0 378.3" stroke-width="2.5" stroke-opacity="0.69"/>
<path d="M571.9 354.3 L571.3 359.6 L570.4 363.8 L570.5 369.0 L567.1 371.4 L564.3 373.9 L559.8 377.0 L556.2 381.3 L551.7 383.8 L549.1 387.7 L547.5 391.8 L548.2 395.5 L547.1 399.0 L545.1 403.7 L544.1 407.3 L541.1 411.7 L541.2 415.3 L542.8 419.3 L542.5 424.0" stroke-width="4.8" stroke-opacity="0.16"/>
<path d="M571.9 354.3 L571.3 359.6 L570.4 363.8" stroke-width="2.6" stroke-opacity="0.65"/>
<path d="M570.4 363.8 L570.5 369.0 L567.1 371.4" stroke-width="2.3" stroke-opacity="0.70"/>
<path d="M567.1 371.4 L564.3 373.9 L559.8 377.0" stroke-width="2.1" stroke-opacity="0.85"/>
<path d="M559.8 377.0 L556.2 381.3 L551.7 383.8 L549.1 387.7 L547.5 391.8" stroke-width="2.5" stroke-opacity="0.63"/>
<path d="M547.5 391.8 L548.2 395.5 L547.1 399.0 L545.1 403.7" stroke-width="3.0" stroke-opacity="0.80"/>
<path d="M545.1 403.7 L544.1 407.3 L541.1 411.7 L541.2 415.3" stroke-width="2.0" stroke-opacity="0.80"/>
<path d="M541.2 415.3 L542.8 419.3 L542.5 424.0" stroke-width="2.4" stroke-opacity="0.78"/>
<path d="M467.6 339.6 L465.0 344.3 L460.9 347.6 L462.0 352.1 L463.5 356.2 L463.9 360.2 L464.9 363.6 L467.6 369.0 L468.6 373.4 L471.6 377.0 L473.2 382.0 L477.2 385.9 L479.6 390.4 L484.2 394.1 L486.6 398.1 L490.3 401.1 L494.5 404.0 L496.8 406.3 L500.3 409.6 L503.7 411.7 L506.6 414.2 L510.5 416.8 L513.3 420.4 L517.1 422.4" stroke-width="4.8" stroke-opacity="0.16"/>
<path d="M467.6 339.6 L465.0 344.3 L460.9 347.6 L462.0 352.1 L463.5 356.2 L463.9 360.2" stroke-width="1.9" stroke-opacity="0.69"/>
<path d="M463.9 360.2 L464.9 363.6 L467.6 369.0 L468.6 373.4 L471.6 377.0 L473.2 382.0 L477.2 385.9" stroke-width="1.7" stroke-opacity="0.64"/>
<path d="M477.2 385.9 L479.6 390.4 L484.2 394.1 L486.6 398.1 L490.3 401.1 L494.5 404.0 L496.8 406.3" stroke-width="1.9" stroke-opacity="0.67"/>
<path d="M496.8 406.3 L500.3 409.6 L503.7 411.7 L506.6 414.2 L510.5 416.8" stroke-width="1.8" stroke-opacity="0.85"/>
<path d="M510.5 416.8 L513.3 420.4 L517.1 422.4" stroke-width="2.9" stroke-opacity="0.66"/>
<path d="M366.0 398.4 L370.2 399.6 L373.7 398.0 L379.2 399.4 L383.4 399.7 L388.4 400.0 L391.5 400.1 L395.5 398.7 L399.5 398.4 L403.9 396.8 L407.2 395.9 L411.2 395.4 L415.5 393.0 L419.9 391.8 L422.6 390.1 L427.3 389.2 L431.5 387.7 L435.3 385.8 L439.7 382.3 L442.2 379.7 L445.4 375.9 L448.9 371.6" stroke-width="4.8" stroke-opacity="0.16"/>
<path d="M366.0 398.4 L370.2 399.6 L373.7 398.0 L379.2 399.4 L383.4 399.7 L388.4 400.0 L391.5 400.1" stroke-width="1.8" stroke-opacity="0.76"/>
<path d="M391.5 400.1 L395.5 398.7 L399.5 398.4" stroke-width="1.5" stroke-opacity="0.70"/>
<path d="M399.5 398.4 L403.9 396.8 L407.2 395.9" stroke-width="2.7" stroke-opacity="0.75"/>
<path d="M407.2 395.9 L411.2 395.4 L415.5 393.0" stroke-width="2.4" stroke-opacity="0.69"/>
<path d="M415.5 393.0 L419.9 391.8 L422.6 390.1 L427.3 389.2 L431.5 387.7" stroke-width="2.7" stroke-opacity="0.90"/>
<path d="M431.5 387.7 L435.3 385.8 L439.7 382.3 L442.2 379.7 L445.4 375.9 L448.9 371.6" stroke-width="2.3" stroke-opacity="0.76"/>
<path d="M452.9 251.4 L455.4 255.2 L457.3 260.1 L458.3 264.7 L458.0 268.9 L459.6 272.7" stroke-width="3.6" stroke-opacity="0.10"/>
<path d="M452.9 251.4 L455.4 255.2 L457.3 260.1" stroke-width="1.4" stroke-opacity="0.70"/>
<path d="M457.3 260.1 L458.3 264.7 L458.0 268.9" stroke-width="1.8" stroke-opacity="0.45"/>
<path d="M458.0 268.9 L459.6 272.7" stroke-width="1.3" stroke-opacity="0.62"/>
<path d="M451.6 312.8 L452.5 317.8 L455.6 323.5" stroke-width="4.3" stroke-opacity="0.10"/>
<path d="M451.6 312.8 L452.5 317.8 L455.6 323.5" stroke-width="2.0" stroke-opacity="0.62"/>
<path d="M546.5 238.0 L546.5 242.0 L547.9 245.5 L548.8 250.1 L549.1 254.0" stroke-width="3.6" stroke-opacity="0.10"/>
<path d="M546.5 238.0 L546.5 242.0 L547.9 245.5 L548.8 250.1" stroke-width="1.7" stroke-opacity="0.55"/>
<path d="M548.8 250.1 L549.1 254.0" stroke-width="1.1" stroke-opacity="0.58"/>
<path d="M423.5 395.7 L424.4 399.1 L424.4 405.6 L426.2 409.1 L431.5 414.4" stroke-width="3.8" stroke-opacity="0.10"/>
<path d="M423.5 395.7 L424.4 399.1 L424.4 405.6 L426.2 409.1 L431.5 414.4" stroke-width="2.1" stroke-opacity="0.60"/>
<path d="M159.7 424.0 L161.7 427.9 L161.3 434.4 L163.7 438.7 L167.8 440.1 L172.3 439.8 L177.1 441.4 L180.6 442.2 L186.0 444.9 L188.8 446.3 L193.1 448.1 L196.9 449.3 L202.0 452.7 L205.1 454.7 L208.2 458.3 L209.4 461.5 L210.1 466.7 L213.2 469.4 L217.9 470.4 L222.1 472.8 L225.2 473.4 L228.8 475.0 L234.2 476.1 L237.2 477.5 L240.0 481.3 L240.5 486.8 L242.6 490.8 L241.5 494.9 L242.5 499.7 L241.2 504.2 L238.3 506.3 L233.4 509.2 L230.5 512.2 L227.2 517.7 L224.7 521.3 L222.5 525.6 L219.0 529.0 L216.9 532.0 L213.5 534.8 L211.8 538.9 L208.5 542.6 L203.8 547.0 L198.8 548.5 L194.4 550.8 L190.4 553.6 L185.0 556.2 L181.2 557.3 L177.1 560.3 L173.1 560.3 L167.7 562.8 L163.7 563.0 L158.4 562.9 L155.5 563.7 L150.3 563.0 L145.6 564.0 L142.8 565.4 L139.3 566.4 L134.3 568.3 L129.9 566.3 L123.6 564.3 L119.0 566.0 L114.8 568.3 L111.6 569.7 L105.7 571.9 L100.9 572.3 L96.7 570.4 L91.6 569.2 L87.2 568.2 L83.5 565.7" stroke-width="5.8" stroke-opacity="0.16"/>
<path d="M159.7 424.0 L161.7 427.9 L161.3 434.4" stroke-width="2.9" stroke-opacity="0.63"/>
<path d="M161.3 434.4 L163.7 438.7 L167.8 440.1 L172.3 439.8 L177.1 441.4" stroke-width="3.0" stroke-opacity="0.83"/>
<path d="M177.1 441.4 L180.6 442.2 L186.0 444.9" stroke-width="2.9" stroke-opacity="0.77"/>
<path d="M186.0 444.9 L188.8 446.3 L193.1 448.1 L196.9 449.3 L202.0 452.7" stroke-width="1.5" stroke-opacity="0.81"/>
<path d="M202.0 452.7 L205.1 454.7 L208.2 458.3 L209.4 461.5" stroke-width="3.1" stroke-opacity="0.67"/>
<path d="M209.4 461.5 L210.1 466.7 L213.2 469.4 L217.9 470.4" stroke-width="2.9" stroke-opacity="0.63"/>
<path d="M217.9 470.4 L222.1 472.8 L225.2 473.4 L228.8 475.0 L234.2 476.1 L237.2 477.5 L240.0 481.3" stroke-width="3.4" stroke-opacity="0.84"/>
<path d="M240.0 481.3 L240.5 486.8 L242.6 490.8 L241.5 494.9 L242.5 499.7" stroke-width="1.9" stroke-opacity="0.82"/>
<path d="M242.5 499.7 L241.2 504.2 L238.3 506.3" stroke-width="1.9" stroke-opacity="0.64"/>
<path d="M238.3 506.3 L233.4 509.2 L230.5 512.2 L227.2 517.7 L224.7 521.3 L222.5 525.6" stroke-width="2.0" stroke-opacity="0.72"/>
<path d="M222.5 525.6 L219.0 529.0 L216.9 532.0 L213.5 534.8 L211.8 538.9 L208.5 542.6" stroke-width="3.1" stroke-opacity="0.86"/>
<path d="M208.5 542.6 L203.8 547.0 L198.8 548.5 L194.4 550.8" stroke-width="3.5" stroke-opacity="0.65"/>
<path d="M194.4 550.8 L190.4 553.6 L185.0 556.2 L181.2 557.3 L177.1 560.3" stroke-width="2.9" stroke-opacity="0.80"/>
<path d="M177.1 560.3 L173.1 560.3 L167.7 562.8 L163.7 563.0 L158.4 562.9" stroke-width="3.4" stroke-opacity="0.61"/>
<path d="M158.4 562.9 L155.5 563.7 L150.3 563.0 L145.6 564.0 L142.8 565.4 L139.3 566.4" stroke-width="2.0" stroke-opacity="0.85"/>
<path d="M139.3 566.4 L134.3 568.3 L129.9 566.3 L123.6 564.3 L119.0 566.0" stroke-width="3.4" stroke-opacity="0.63"/>
<path d="M119.0 566.0 L114.8 568.3 L111.6 569.7 L105.7 571.9 L100.9 572.3" stroke-width="1.7" stroke-opacity="0.87"/>
<path d="M100.9 572.3 L96.7 570.4 L91.6 569.2 L87.2 568.2" stroke-width="3.0" stroke-opacity="0.61"/>
<path d="M87.2 568.2 L83.5 565.7" stroke-width="2.8" stroke-opacity="0.73"/>
<path d="M159.7 424.0 L156.6 424.9 L152.9 427.5 L149.0 430.0 L145.0 430.7 L141.9 432.5 L138.6 435.5 L136.3 438.3 L132.3 441.3 L129.0 442.7 L125.0 447.3 L123.1 451.6 L119.6 454.7 L117.1 459.6 L112.9 464.1 L109.3 466.8 L105.3 466.4 L100.5 469.7 L96.9 470.8 L92.1 471.7 L87.8 471.3 L83.5 470.8 L80.6 471.0 L74.9 470.8 L71.2 471.8 L67.5 470.8 L64.7 473.5 L62.1 477.4 L59.5 480.1 L56.9 484.4 L52.8 488.2" stroke-width="5.3" stroke-opacity="0.16"/>
<path d="M159.7 424.0 L156.6 424.9 L152.9 427.5 L149.0 430.0 L145.0 430.7 L141.9 432.5 L138.6 435.5" stroke-width="1.4" stroke-opacity="0.81"/>
<path d="M138.6 435.5 L136.3 438.3 L132.3 441.3 L129.0 442.7 L125.0 447.3 L123.1 451.6" stroke-width="2.7" stroke-opacity="0.85"/>
<path d="M123.1 451.6 L119.6 454.7 L117.1 459.6 L112.9 464.1" stroke-width="2.3" stroke-opacity="0.66"/>
<path d="M112.9 464.1 L109.3 466.8 L105.3 466.4 L100.5 469.7 L96.9 470.8 L92.1 471.7 L87.8 471.3" stroke-width="1.8" stroke-opacity="0.76"/>
<path d="M87.8 471.3 L83.5 470.8 L80.6 471.0 L74.9 470.8" stroke-width="2.4" stroke-opacity="0.67"/>
<path d="M74.9 470.8 L71.2 471.8 L67.5 470.8" stroke-width="1.7" stroke-opacity="0.70"/>
<path d="M67.5 470.8 L64.7 473.5 L62.1 477.4" stroke-width="1.7" stroke-opacity="0.69"/>
<path d="M62.1 477.4 L59.5 480.1 L56.9 484.4 L52.8 488.2" stroke-width="2.7" stroke-opacity="0.75"/>
<path d="M8.7 477.5 L13.5 476.6 L17.4 475.2 L23.4 473.4 L26.6 476.0 L31.8 477.1 L35.4 480.1 L40.2 482.3 L43.5 484.4 L47.6 486.0 L52.8 488.2" stroke-width="4.8" stroke-opacity="0.16"/>
<path d="M8.7 477.5 L13.5 476.6 L17.4 475.2 L23.4 473.4" stroke-width="2.4" stroke-opacity="0.65"/>
<path d="M23.4 473.4 L26.6 476.0 L31.8 477.1 L35.4 480.1 L40.2 482.3 L43.5 484.4" stroke-width="2.7" stroke-opacity="0.72"/>
<path d="M43.5 484.4 L47.6 486.0 L52.8 488.2" stroke-width="1.4" stroke-opacity="0.69"/>
<path d="M52.8 488.2 L53.8 492.0 L54.5 496.6 L56.8 501.5 L58.5 505.3 L61.3 507.3 L63.4 511.5 L66.1 514.9 L68.8 517.2 L71.2 519.8 L76.2 524.5 L78.2 526.9 L78.9 531.7 L82.6 535.7 L82.3 539.9 L84.9 544.3 L83.7 548.3 L82.9 552.6 L82.8 558.6 L80.8 563.0 L80.1 568.0 L79.2 570.5 L77.3 574.2 L76.8 579.0 L72.7 583.2 L71.3 585.7 L67.5 589.7 L64.6 593.6 L63.8 597.8 L60.8 600.4" stroke-width="5.8" stroke-opacity="0.16"/>
<path d="M52.8 488.2 L53.8 492.0 L54.5 496.6 L56.8 501.5" stroke-width="1.7" stroke-opacity="0.82"/>
<path d="M56.8 501.5 L58.5 505.3 L61.3 507.3 L63.4 511.5 L66.1 514.9" stroke-width="3.0" stroke-opacity="0.70"/>
<path d="M66.1 514.9 L68.8 517.2 L71.2 519.8 L76.2 524.5" stroke-width="2.8" stroke-opacity="0.71"/>
<path d="M76.2 524.5 L78.2 526.9 L78.9 531.7 L82.6 535.7" stroke-width="2.2" stroke-opacity="0.77"/>
<path d="M82.6 535.7 L82.3 539.9 L84.9 544.3 L83.7 548.3 L82.9 552.6" stroke-width="3.2" stroke-opacity="0.68"/>
<path d="M82.9 552.6 L82.8 558.6 L80.8 563.0" stroke-width="1.5" stroke-opacity="0.77"/>
<path d="M80.8 563.0 L80.1 568.0 L79.2 570.5 L77.3 574.2 L76.8 579.0 L72.7 583.2" stroke-width="3.4" stroke-opacity="0.88"/>
<path d="M72.7 583.2 L71.3 585.7 L67.5 589.7 L64.6 593.6 L63.8 597.8 L60.8 600.4" stroke-width="2.4" stroke-opacity="0.82"/>
<path d="M60.8 600.4 L57.5 600.3 L52.4 599.0 L47.2 598.6 L43.4 599.1 L39.7 598.9 L36.5 599.9 L31.3 598.5 L27.4 599.1" stroke-width="4.3" stroke-opacity="0.10"/>
<path d="M60.8 600.4 L57.5 600.3 L52.4 599.0 L47.2 598.6 L43.4 599.1" stroke-width="1.1" stroke-opacity="0.66"/>
<path d="M43.4 599.1 L39.7 598.9 L36.5 599.9 L31.3 598.5 L27.4 599.1" stroke-width="1.8" stroke-opacity="0.52"/>
<path d="M276.0 425.3 L275.3 429.9 L273.7 434.1 L272.6 439.3 L272.4 444.4 L270.6 448.1 L268.3 451.3 L267.3 455.7 L265.5 458.6 L263.3 462.6 L262.6 466.8 L259.8 471.8 L258.2 475.6 L255.6 479.8 L251.9 482.8" stroke-width="4.3" stroke-opacity="0.10"/>
<path d="M276.0 425.3 L275.3 429.9 L273.7 434.1 L272.6 439.3 L272.4 444.4 L270.6 448.1 L268.3 451.3" stroke-width="1.2" stroke-opacity="0.65"/>
<path d="M268.3 451.3 L267.3 455.7 L265.5 458.6 L263.3 462.6 L262.6 466.8" stroke-width="2.1" stroke-opacity="0.52"/>
<path d="M262.6 466.8 L259.8 471.8 L258.2 475.6 L255.6 479.8 L251.9 482.8" stroke-width="1.8" stroke-opacity="0.54"/>
<path d="M242.6 504.2 L246.9 505.2 L251.4 507.8 L254.6 509.5 L259.6 510.6 L263.3 510.7 L269.0 509.8 L273.3 510.9 L277.9 510.5 L283.2 509.7 L286.7 509.5 L291.4 506.7 L297.4 504.2 L300.4 505.8 L305.5 508.0 L308.0 510.9 L312.6 511.3 L316.8 513.2 L319.4 514.3 L324.1 514.9 L329.0 513.8 L332.9 514.1 L337.4 513.5 L342.2 510.7 L346.0 506.9" stroke-width="5.3" stroke-opacity="0.16"/>
<path d="M242.6 504.2 L246.9 505.2 L251.4 507.8 L254.6 509.5 L259.6 510.6 L263.3 510.7 L269.0 509.8" stroke-width="2.4" stroke-opacity="0.86"/>
<path d="M269.0 509.8 L273.3 510.9 L277.9 510.5" stroke-width="2.9" stroke-opacity="0.64"/>
<path d="M277.9 510.5 L283.2 509.7 L286.7 509.5 L291.4 506.7 L297.4 504.2 L300.4 505.8 L305.5 508.0" stroke-width="2.4" stroke-opacity="0.81"/>
<path d="M305.5 508.0 L308.0 510.9 L312.6 511.3" stroke-width="2.6" stroke-opacity="0.89"/>
<path d="M312.6 511.3 L316.8 513.2 L319.4 514.3 L324.1 514.9 L329.0 513.8 L332.9 514.1 L337.4 513.5" stroke-width="1.5" stroke-opacity="0.85"/>
<path d="M337.4 513.5 L342.2 510.7 L346.0 506.9" stroke-width="2.4" stroke-opacity="0.89"/>
<path d="M346.0 472.1 L342.9 476.5 L340.3 480.7 L338.8 485.5 L337.0 490.6 L334.8 496.2" stroke-width="4.3" stroke-opacity="0.10"/>
<path d="M346.0 472.1 L342.9 476.5 L340.3 480.7" stroke-width="1.7" stroke-opacity="0.45"/>
<path d="M340.3 480.7 L338.8 485.5 L337.0 490.6 L334.8 496.2" stroke-width="2.6" stroke-opacity="0.56"/>
<path d="M154.3 565.7 L155.2 568.9 L158.6 572.8 L160.4 577.0 L161.0 581.7 L160.9 586.2 L162.0 589.4 L163.8 594.4 L163.7 597.7 L164.2 602.0 L163.7 608.4" stroke-width="4.3" stroke-opacity="0.10"/>
<path d="M154.3 565.7 L155.2 568.9 L158.6 572.8 L160.4 577.0 L161.0 581.7" stroke-width="1.3" stroke-opacity="0.54"/>
<path d="M161.0 581.7 L160.9 586.2 L162.0 589.4 L163.8 594.4 L163.7 597.7 L164.2 602.0 L163.7 608.4" stroke-width="2.6" stroke-opacity="0.63"/>
<path d="M209.1 548.3 L212.1 548.9 L216.3 549.1 L221.8 548.4 L225.2 549.6 L229.7 553.6 L231.8 556.1 L235.9 560.3 L239.3 563.7 L243.2 564.8 L246.6 568.3 L247.3 571.9 L250.8 576.6 L251.9 581.7 L254.7 584.6 L257.7 588.1 L259.1 592.6 L262.6 595.1 L266.3 599.1 L270.4 603.2 L273.3 605.8" stroke-width="4.3" stroke-opacity="0.10"/>
<path d="M209.1 548.3 L212.1 548.9 L216.3 549.1" stroke-width="1.1" stroke-opacity="0.70"/>
<path d="M216.3 549.1 L221.8 548.4 L225.2 549.6 L229.7 553.6 L231.8 556.1 L235.9 560.3" stroke-width="1.9" stroke-opacity="0.67"/>
<path d="M235.9 560.3 L239.3 563.7 L243.2 564.8" stroke-width="1.2" stroke-opacity="0.61"/>
<path d="M243.2 564.8 L246.6 568.3 L247.3 571.9 L250.8 576.6 L251.9 581.7 L254.7 584.6 L257.7 588.1" stroke-width="1.7" stroke-opacity="0.57"/>
<path d="M257.7 588.1 L259.1 592.6 L262.6 595.1 L266.3 599.1" stroke-width="2.2" stroke-opacity="0.56"/>
<path d="M266.3 599.1 L270.4 603.2 L273.3 605.8" stroke-width="2.5" stroke-opacity="0.60"/>
<path d="M273.3 571.0 L275.0 574.2 L278.0 579.0 L281.3 581.7 L281.8 584.7 L281.3 589.4 L282.2 593.9 L282.7 597.7 L286.4 598.8 L289.6 600.6 L294.7 601.8 L298.6 601.8 L303.1 605.0 L306.5 604.2 L312.2 605.5 L316.1 607.1" stroke-width="4.3" stroke-opacity="0.10"/>
<path d="M273.3 571.0 L275.0 574.2 L278.0 579.0 L281.3 581.7 L281.8 584.7" stroke-width="1.2" stroke-opacity="0.70"/>
<path d="M281.8 584.7 L281.3 589.4 L282.2 593.9 L282.7 597.7 L286.4 598.8" stroke-width="2.0" stroke-opacity="0.58"/>
<path d="M286.4 598.8 L289.6 600.6 L294.7 601.8 L298.6 601.8" stroke-width="2.7" stroke-opacity="0.46"/>
<path d="M298.6 601.8 L303.1 605.0 L306.5 604.2 L312.2 605.5 L316.1 607.1" stroke-width="2.5" stroke-opacity="0.47"/>
<path d="M8.7 549.6 L12.5 549.5 L17.7 548.7 L22.0 549.6 L26.7 552.9 L29.5 555.6 L33.3 556.7 L38.1 560.3 L43.1 562.2 L45.8 565.6 L50.1 567.0" stroke-width="3.4" stroke-opacity="0.10"/>
<path d="M8.7 549.6 L12.5 549.5 L17.7 548.7 L22.0 549.6" stroke-width="1.3" stroke-opacity="0.59"/>
<path d="M22.0 549.6 L26.7 552.9 L29.5 555.6 L33.3 556.7 L38.1 560.3 L43.1 562.2" stroke-width="1.3" stroke-opacity="0.63"/>
<path d="M43.1 562.2 L45.8 565.6 L50.1 567.0" stroke-width="2.0" stroke-opacity="0.65"/>
<path d="M313.4 425.3 L317.9 427.5 L323.0 429.1 L326.8 429.3 L330.4 430.5 L336.5 433.3 L340.1 434.7" stroke-width="3.4" stroke-opacity="0.10"/>
<path d="M313.4 425.3 L317.9 427.5 L323.0 429.1 L326.8 429.3 L330.4 430.5 L336.5 433.3" stroke-width="1.4" stroke-opacity="0.59"/>
<path d="M336.5 433.3 L340.1 434.7" stroke-width="2.0" stroke-opacity="0.60"/>
<path d="M364.7 424.0 L364.6 429.8 L366.0 434.7 L363.7 439.3 L362.8 444.6 L360.7 448.1 L358.4 451.8 L359.0 457.2 L356.7 461.4 L353.6 464.7 L351.3 469.6 L348.7 472.1" stroke-width="4.8" stroke-opacity="0.16"/>
<path d="M364.7 424.0 L364.6 429.8 L366.0 434.7 L363.7 439.3 L362.8 444.6 L360.7 448.1" stroke-width="2.5" stroke-opacity="0.88"/>
<path d="M360.7 448.1 L358.4 451.8 L359.0 457.2 L356.7 461.4 L353.6 464.7 L351.3 469.6" stroke-width="1.8" stroke-opacity="0.65"/>
<path d="M351.3 469.6 L348.7 472.1" stroke-width="2.2" stroke-opacity="0.83"/>
<path d="M522.4 424.0 L524.0 427.4 L524.0 431.0 L526.3 436.9 L527.8 440.0 L526.4 444.5 L525.1 448.4 L525.1 453.4 L521.4 456.2 L518.7 459.6 L517.1 464.1 L514.2 466.9 L510.4 468.4 L506.4 472.1 L505.0 476.9 L503.5 480.6 L503.7 485.5 L499.1 487.8 L497.4 489.8 L493.0 493.5 L488.5 496.4 L484.8 498.1 L479.6 501.5 L476.0 504.4 L469.8 506.2 L466.3 508.2 L462.4 511.5 L457.2 513.6 L452.9 514.9 L450.4 516.2 L445.8 519.9 L442.5 521.7 L439.6 524.2 L436.7 527.6 L432.1 528.5 L428.9 532.3 L426.2 534.9 L420.8 540.3" stroke-width="4.8" stroke-opacity="0.16"/>
<path d="M522.4 424.0 L524.0 427.4 L524.0 431.0" stroke-width="1.8" stroke-opacity="0.71"/>
<path d="M524.0 431.0 L526.3 436.9 L527.8 440.0 L526.4 444.5 L525.1 448.4" stroke-width="2.2" stroke-opacity="0.78"/>
<path d="M525.1 448.4 L525.1 453.4 L521.4 456.2 L518.7 459.6 L517.1 464.1 L514.2 466.9 L510.4 468.4" stroke-width="1.5" stroke-opacity="0.89"/>
<path d="M510.4 468.4 L506.4 472.1 L505.0 476.9 L503.5 480.6 L503.7 485.5 L499.1 487.8 L497.4 489.8" stroke-width="1.8" stroke-opacity="0.82"/>
<path d="M497.4 489.8 L493.0 493.5 L488.5 496.4 L484.8 498.1 L479.6 501.5" stroke-width="2.7" stroke-opacity="0.74"/>
<path d="M479.6 501.5 L476.0 504.4 L469.8 506.2" stroke-width="2.6" stroke-opacity="0.69"/>
<path d="M469.8 506.2 L466.3 508.2 L462.4 511.5 L457.2 513.6 L452.9 514.9 L450.4 516.2 L445.8 519.9" stroke-width="3.0" stroke-opacity="0.74"/>
<path d="M445.8 519.9 L442.5 521.7 L439.6 524.2 L436.7 527.6 L432.1 528.5" stroke-width="1.9" stroke-opacity="0.76"/>
<path d="M432.1 528.5 L428.9 532.3 L426.2 534.9 L420.8 540.3" stroke-width="1.4" stroke-opacity="0.60"/>
<path d="M346.0 509.5 L350.4 509.9 L355.5 509.2 L359.4 509.5 L364.0 512.5 L367.1 515.8 L370.1 520.2 L371.7 523.4 L374.4 528.2 L378.2 531.6 L380.7 536.3 L385.7 538.0 L388.0 539.6 L393.3 543.2 L396.8 544.3 L400.1 544.6 L405.4 546.4 L409.9 548.3 L412.8 549.6" stroke-width="4.3" stroke-opacity="0.10"/>
<path d="M346.0 509.5 L350.4 509.9 L355.5 509.2 L359.4 509.5 L364.0 512.5" stroke-width="2.5" stroke-opacity="0.55"/>
<path d="M364.0 512.5 L367.1 515.8 L370.1 520.2 L371.7 523.4" stroke-width="1.6" stroke-opacity="0.68"/>
<path d="M371.7 523.4 L374.4 528.2 L378.2 531.6" stroke-width="2.1" stroke-opacity="0.45"/>
<path d="M378.2 531.6 L380.7 536.3 L385.7 538.0 L388.0 539.6 L393.3 543.2 L396.8 544.3" stroke-width="2.2" stroke-opacity="0.54"/>
<path d="M396.8 544.3 L400.1 544.6 L405.4 546.4 L409.9 548.3" stroke-width="2.0" stroke-opacity="0.55"/>
<path d="M409.9 548.3 L412.8 549.6" stroke-width="2.6" stroke-opacity="0.61"/>
<path d="M558.5 453.4 L559.6 456.5 L561.3 460.6 L562.9 463.8 L565.2 468.1 L568.4 472.4 L570.5 476.1 L574.5 478.1 L578.8 478.1 L583.9 478.8 L587.6 477.4 L593.6 473.8 L597.3 472.1 L601.8 470.8 L604.8 467.7 L609.3 467.0 L613.3 464.1 L616.6 463.2 L621.5 461.3 L625.5 460.9 L629.3 458.7 L632.0 457.3 L635.7 454.7 L640.2 451.0 L642.7 449.4 L647.5 448.8 L650.3 445.0 L653.9 445.4 L658.7 442.7 L662.3 442.3 L667.3 440.6 L671.9 438.0 L677.4 437.4" stroke-width="4.8" stroke-opacity="0.16"/>
<path d="M558.5 453.4 L559.6 456.5 L561.3 460.6 L562.9 463.8 L565.2 468.1 L568.4 472.4" stroke-width="1.4" stroke-opacity="0.70"/>
<path d="M568.4 472.4 L570.5 476.1 L574.5 478.1 L578.8 478.1 L583.9 478.8 L587.6 477.4" stroke-width="2.8" stroke-opacity="0.89"/>
<path d="M587.6 477.4 L593.6 473.8 L597.3 472.1" stroke-width="2.3" stroke-opacity="0.66"/>
<path d="M597.3 472.1 L601.8 470.8 L604.8 467.7" stroke-width="1.3" stroke-opacity="0.75"/>
<path d="M604.8 467.7 L609.3 467.0 L613.3 464.1 L616.6 463.2" stroke-width="2.2" stroke-opacity="0.81"/>
<path d="M616.6 463.2 L621.5 461.3 L625.5 460.9" stroke-width="1.3" stroke-opacity="0.87"/>
<path d="M625.5 460.9 L629.3 458.7 L632.0 457.3" stroke-width="2.8" stroke-opacity="0.64"/>
<path d="M632.0 457.3 L635.7 454.7 L640.2 451.0 L642.7 449.4 L647.5 448.8 L650.3 445.0" stroke-width="2.9" stroke-opacity="0.76"/>
<path d="M650.3 445.0 L653.9 445.4 L658.7 442.7" stroke-width="1.5" stroke-opacity="0.81"/>
<path d="M658.7 442.7 L662.3 442.3 L667.3 440.6 L671.9 438.0" stroke-width="2.3" stroke-opacity="0.76"/>
<path d="M671.9 438.0 L677.4 437.4" stroke-width="2.2" stroke-opacity="0.85"/>
<path d="M567.9 476.1 L565.3 478.3 L561.8 483.1 L557.2 485.5 L556.9 489.3 L553.5 494.8 L553.2 498.8 L553.4 503.7 L555.8 509.5 L555.5 512.9 L553.2 517.6" stroke-width="4.8" stroke-opacity="0.16"/>
<path d="M567.9 476.1 L565.3 478.3 L561.8 483.1" stroke-width="1.9" stroke-opacity="0.77"/>
<path d="M561.8 483.1 L557.2 485.5 L556.9 489.3 L553.5 494.8 L553.2 498.8" stroke-width="1.7" stroke-opacity="0.70"/>
<path d="M553.2 498.8 L553.4 503.7 L555.8 509.5" stroke-width="2.4" stroke-opacity="0.76"/>
<path d="M555.8 509.5 L555.5 512.9 L553.2 517.6" stroke-width="1.8" stroke-opacity="0.72"/>
<path d="M681.5 424.0 L682.8 429.0 L681.4 432.7 L682.2 437.1 L681.6 442.4 L683.4 446.9 L682.8 450.7 L683.2 455.5 L681.3 459.6 L682.5 464.5 L681.5 469.6 L681.3 473.4 L680.1 477.5 L679.0 482.2 L678.6 486.8 L679.2 491.0 L679.6 495.2 L679.4 499.6 L678.8 504.2 L679.2 508.6 L679.6 513.0 L679.1 517.7 L679.4 522.7 L680.5 527.3 L680.1 530.9 L680.5 534.0 L681.5 538.9" stroke-width="4.8" stroke-opacity="0.16"/>
<path d="M681.5 424.0 L682.8 429.0 L681.4 432.7 L682.2 437.1 L681.6 442.4 L683.4 446.9 L682.8 450.7" stroke-width="1.7" stroke-opacity="0.80"/>
<path d="M682.8 450.7 L683.2 455.5 L681.3 459.6 L682.5 464.5 L681.5 469.6" stroke-width="1.3" stroke-opacity="0.84"/>
<path d="M681.5 469.6 L681.3 473.4 L680.1 477.5 L679.0 482.2" stroke-width="2.9" stroke-opacity="0.83"/>
<path d="M679.0 482.2 L678.6 486.8 L679.2 491.0 L679.6 495.2 L679.4 499.6" stroke-width="2.8" stroke-opacity="0.74"/>
<path d="M679.4 499.6 L678.8 504.2 L679.2 508.6 L679.6 513.0 L679.1 517.7" stroke-width="2.1" stroke-opacity="0.74"/>
<path d="M679.1 517.7 L679.4 522.7 L680.5 527.3 L680.1 530.9" stroke-width="3.0" stroke-opacity="0.62"/>
<path d="M680.1 530.9 L680.5 534.0 L681.5 538.9" stroke-width="1.9" stroke-opacity="0.66"/>
<path d="M621.3 508.2 L624.6 508.9 L629.7 509.4 L633.7 510.5 L637.4 512.2 L643.0 512.3 L647.0 511.8 L651.0 509.9 L656.1 509.5 L661.5 509.0 L665.2 509.3 L669.8 508.2 L674.8 508.2" stroke-width="3.4" stroke-opacity="0.10"/>
<path d="M621.3 508.2 L624.6 508.9 L629.7 509.4 L633.7 510.5 L637.4 512.2 L643.0 512.3 L647.0 511.8" stroke-width="1.5" stroke-opacity="0.56"/>
<path d="M647.0 511.8 L651.0 509.9 L656.1 509.5" stroke-width="1.2" stroke-opacity="0.52"/>
<path d="M656.1 509.5 L661.5 509.0 L665.2 509.3 L669.8 508.2 L674.8 508.2" stroke-width="1.7" stroke-opacity="0.56"/>
<path d="M460.9 474.8 L461.2 480.1 L462.2 483.4 L462.3 488.5 L462.3 493.5 L464.5 496.5 L466.4 500.3 L469.0 504.2" stroke-width="3.6" stroke-opacity="0.10"/>
<path d="M460.9 474.8 L461.2 480.1 L462.2 483.4 L462.3 488.5 L462.3 493.5 L464.5 496.5" stroke-width="1.2" stroke-opacity="0.59"/>
<path d="M464.5 496.5 L466.4 500.3 L469.0 504.2" stroke-width="1.7" stroke-opacity="0.46"/>
<path d="M392.8 569.7 L388.4 571.8 L384.9 572.6 L381.2 575.4 L378.1 576.4 L372.7 579.3 L370.0 581.0 L364.7 584.4 L361.0 588.6 L357.8 591.2 L354.0 595.1 L349.7 597.6 L347.3 600.4" stroke-width="4.3" stroke-opacity="0.10"/>
<path d="M392.8 569.7 L388.4 571.8 L384.9 572.6 L381.2 575.4 L378.1 576.4" stroke-width="1.1" stroke-opacity="0.64"/>
<path d="M378.1 576.4 L372.7 579.3 L370.0 581.0 L364.7 584.4 L361.0 588.6 L357.8 591.2" stroke-width="1.8" stroke-opacity="0.60"/>
<path d="M357.8 591.2 L354.0 595.1 L349.7 597.6 L347.3 600.4" stroke-width="1.7" stroke-opacity="0.55"/>
<path d="M525.1 453.4 L529.7 457.0 L533.3 459.8 L538.5 461.4 L542.5 463.8 L545.9 466.4 L549.1 469.4" stroke-width="2.9" stroke-opacity="0.10"/>
<path d="M525.1 453.4 L529.7 457.0 L533.3 459.8" stroke-width="0.8" stroke-opacity="0.56"/>
<path d="M533.3 459.8 L538.5 461.4 L542.5 463.8 L545.9 466.4 L549.1 469.4" stroke-width="1.3" stroke-opacity="0.57"/>
<ellipse cx="227.9" cy="122.8" rx="2.3" ry="2.7" fill="#2b2c2e" fill-opacity="0.5" stroke="none"/>
<ellipse cx="54.1" cy="213.7" rx="1.8" ry="1.8" fill="#2b2c2e" fill-opacity="0.5" stroke="none"/>
<ellipse cx="78.2" cy="180.3" rx="2.3" ry="1.8" fill="#2b2c2e" fill-opacity="0.5" stroke="none"/>
<ellipse cx="72.8" cy="114.8" rx="2.3" ry="1.8" fill="#2b2c2e" fill-opacity="0.5" stroke="none"/>
<ellipse cx="182.4" cy="64.0" rx="1.8" ry="2.3" fill="#2b2c2e" fill-opacity="0.5" stroke="none"/>
<ellipse cx="329.4" cy="106.8" rx="2.3" ry="1.8" fill="#2b2c2e" fill-opacity="0.5" stroke="none"/>
<ellipse cx="530.4" cy="199.0" rx="3.6" ry="2.3" fill="#2b2c2e" fill-opacity="0.5" stroke="none"/>
<ellipse cx="418.2" cy="172.3" rx="2.3" ry="2.3" fill="#2b2c2e" fill-opacity="0.5" stroke="none"/>
<ellipse cx="452.9" cy="129.5" rx="2.3" ry="2.3" fill="#2b2c2e" fill-opacity="0.5" stroke="none"/>
<ellipse cx="436.9" cy="57.3" rx="1.8" ry="2.3" fill="#2b2c2e" fill-opacity="0.5" stroke="none"/>
<ellipse cx="530.4" cy="56.0" rx="2.3" ry="2.3" fill="#2b2c2e" fill-opacity="0.5" stroke="none"/>
<ellipse cx="356.7" cy="72.0" rx="1.8" ry="2.3" fill="#2b2c2e" fill-opacity="0.5" stroke="none"/>
<ellipse cx="661.4" cy="180.3" rx="2.3" ry="2.3" fill="#2b2c2e" fill-opacity="0.5" stroke="none"/>
<ellipse cx="213.2" cy="302.2" rx="1.8" ry="1.8" fill="#2b2c2e" fill-opacity="0.5" stroke="none"/>
<ellipse cx="142.3" cy="270.1" rx="1.4" ry="1.4" fill="#2b2c2e" fill-opacity="0.5" stroke="none"/>
<ellipse cx="74.2" cy="307.5" rx="2.3" ry="1.8" fill="#2b2c2e" fill-opacity="0.5" stroke="none"/>
<ellipse cx="39.4" cy="275.4" rx="1.4" ry="2.7" fill="#2b2c2e" fill-opacity="0.5" stroke="none"/>
<ellipse cx="618.6" cy="315.5" rx="2.7" ry="2.3" fill="#2b2c2e" fill-opacity="0.5" stroke="none"/>
<ellipse cx="463.6" cy="403.7" rx="1.8" ry="2.3" fill="#2b2c2e" fill-opacity="0.5" stroke="none"/>
<ellipse cx="428.9" cy="411.7" rx="1.8" ry="1.8" fill="#2b2c2e" fill-opacity="0.5" stroke="none"/>
<ellipse cx="399.5" cy="334.2" rx="2.7" ry="2.7" fill="#2b2c2e" fill-opacity="0.5" stroke="none"/>
<ellipse cx="670.8" cy="347.6" rx="1.8" ry="2.3" fill="#2b2c2e" fill-opacity="0.5" stroke="none"/>
<ellipse cx="158.4" cy="500.2" rx="1.8" ry="2.3" fill="#2b2c2e" fill-opacity="0.5" stroke="none"/>
<ellipse cx="190.4" cy="498.8" rx="2.3" ry="2.3" fill="#2b2c2e" fill-opacity="0.5" stroke="none"/>
<ellipse cx="50.1" cy="565.7" rx="2.3" ry="2.7" fill="#2b2c2e" fill-opacity="0.5" stroke="none"/>
<ellipse cx="56.8" cy="504.2" rx="1.8" ry="2.3" fill="#2b2c2e" fill-opacity="0.5" stroke="none"/>
<ellipse cx="452.9" cy="453.4" rx="1.8" ry="1.8" fill="#2b2c2e" fill-opacity="0.5" stroke="none"/>
<ellipse cx="634.7" cy="522.9" rx="1.8" ry="1.8" fill="#2b2c2e" fill-opacity="0.5" stroke="none"/>
</g>
</g>
<!-- scale bar -->
<path d="M419.3 589.3V602.5H681.7V589.3" fill="none" stroke="#231f20" stroke-width="2.2"/>
<!-- spectrum -->
<g filter="url(#soft2)">
<rect x="920.4" y="61" width="2.9" height="41" fill="#dcddde"/>
<rect x="920.2" y="100.5" width="3.2" height="1.5" fill="#9a9c9f"/>
<rect x="920.3" y="102" width="3.1" height="39" fill="#d2d3d5"/>
<polygon points="916.3,390 919.6,390 919.6,480 914.2,512 915.7,460" fill="#b6b8ba"/>
<polygon points="920.3,140 923.4,140 924.4,250 925.0,331 919.3,331 919.6,250" fill="url(#og)"/>
<polygon points="886.0,584.0 890.0,582.0 892.2,578.0 893.4,566.0 894.6,558.5 895.7,556.5 896.8,558.5 898.0,566.0 899.0,575.0 902.0,570.5 905.0,567.5 908.0,563.0 910.0,561.0 912.2,554.0 913.6,522.0 914.2,510.0 915.5,500.0 917.6,485.0 918.8,470.0 919.1,400.0 919.3,330.0 925.0,330.0 925.3,400.0 926.3,470.0 927.6,510.0 928.8,545.0 930.6,572.0 932.5,576.0 933.5,570.0 935.2,563.0 937.5,545.0 942.0,542.5 944.4,522.0 946.2,487.0 947.2,446.0 948.0,442.0 949.3,442.0 950.3,446.0 951.8,487.0 953.4,519.0 958.3,526.5 960.6,545.0 963.3,568.0 966.3,577.5 985.0,578.3 1015.0,578.2 1133.0,577.8 1134.0,570.0 1136.0,557.0 1139.5,531.0 1142.0,508.0 1143.6,500.5 1145.5,506.0 1149.5,531.0 1153.0,557.0 1155.5,572.0 1158.0,572.0 1161.0,569.0 1164.0,568.0 1168.0,569.5 1172.0,573.0 1176.0,576.5 1200.0,577.8 1280.0,578.0 1425.0,578.0 1429.0,576.0 1434.0,572.5 1438.5,571.5 1443.0,572.5 1448.0,576.0 1452.0,578.0 1527.0,578.0 1531.0,576.5 1536.0,573.0 1540.0,571.0 1543.0,570.5 1546.0,571.0 1550.0,574.0 1555.0,577.0 1560.0,578.0 1579.0,578.0 1581.5,574.0 1585.0,562.0 1588.7,535.0 1591.0,507.0 1594.2,460.0 1597.5,420.0 1599.3,404.0 1600.2,404.0 1602.0,430.0 1603.5,460.0 1607.4,507.0 1609.8,535.0 1613.0,562.0 1616.0,573.0 1619.0,578.0 1639.0,578.0 1642.0,575.0 1648.5,562.0 1653.0,545.0 1655.0,536.5 1656.0,534.5 1658.0,534.5 1659.3,538.0 1662.5,549.5 1666.2,558.0 1671.0,557.5 1675.5,556.5 1678.0,561.0 1681.0,568.0 1685.0,574.0 1689.0,578.0 1722.0,578.3 1728.0,577.0 1734.0,575.0 1740.0,574.3 1746.0,575.5 1752.0,577.5 1758.0,578.3 1806.0,578.5 1806.0,584.0" fill="#808285"/>
<path d="M1016 574.9H1132" stroke="#8d8f92" stroke-width="2.2" stroke-dasharray="9 0.8 14 0.6 6 1 18 0.7 11 0.9" stroke-opacity="0.9" fill="none"/>
<path d="M985 576.5H1012" stroke="#a0a2a5" stroke-width="1.6" stroke-dasharray="3 2 5 3" fill="none"/>
<path d="M890 583 C900 578,905 576.5,912 576.3 S925 577.5,932 577.3 S944 574.5,950 575 S962 577.5,968 578 L1015 577.6 L1130 577.2 L1176 577.4 L1400 578.6 L1806 580.5" fill="none" stroke="#c5c6c8" stroke-width="1.1"/>
<rect x="1250" y="580" width="556" height="3.7" fill="url(#lb)"/>
</g>
<rect x="864.6" y="120.7" width="2" height="1.6" fill="#a7a9ac"/><rect x="864.6" y="171.7" width="2" height="1.6" fill="#a7a9ac"/><rect x="864.6" y="223.2" width="2" height="1.6" fill="#a7a9ac"/><rect x="864.6" y="274.7" width="2" height="1.6" fill="#a7a9ac"/><rect x="864.6" y="326.2" width="2" height="1.6" fill="#a7a9ac"/><rect x="864.6" y="377.7" width="2" height="1.6" fill="#a7a9ac"/><rect x="864.6" y="428.7" width="2" height="1.6" fill="#a7a9ac"/><rect x="864.6" y="479.7" width="2" height="1.6" fill="#a7a9ac"/><rect x="864.6" y="530.7" width="2" height="1.6" fill="#a7a9ac"/>
<!-- axes -->
<g fill="#231f20">
<rect x="866.1" y="70" width="2.5" height="517.6"/>
<path d="M867.35 61.2 L875.3 79.2 L867.35 76.3 L859.4 79.2 Z"/>
<rect x="866.1" y="585.2" width="940" height="2.5"/>
<rect x="866.1" y="586" width="2.5" height="13.7"/><rect x="1003.2" y="586" width="2.5" height="13.7"/><rect x="1140.5" y="586" width="2.5" height="13.7"/><rect x="1277.7" y="586" width="2.5" height="13.7"/><rect x="1414.8" y="586" width="2.5" height="13.7"/><rect x="1551.8" y="586" width="2.5" height="13.7"/><rect x="1689.2" y="586" width="2.5" height="13.7"/>
</g>
<text transform="translate(369.50,33.90) scale(1.040,1)" text-anchor="middle">(а)</text>
<text transform="translate(1337.20,33.90) scale(1.053,1)" text-anchor="middle">(б)</text>
<text transform="translate(559.60,574.50) scale(1.000,1)" text-anchor="middle" font-size="40.5">100 мкм</text>
<text transform="translate(917.85,91.50) scale(1.077,1)" text-anchor="start">O</text>
<text transform="translate(930.50,412.80) scale(1.067,1)" text-anchor="start">Fe</text>
<text transform="translate(949.00,455.50) scale(1.084,1)" text-anchor="start">Co</text>
<text transform="translate(945.20,518.90) scale(1.105,1)" text-anchor="start">Ni</text>
<text transform="translate(881.00,548.50) scale(1.100,1)" text-anchor="start">C</text>
<text transform="translate(1571.80,398.50) scale(1.089,1)" text-anchor="start">Co</text>
<text transform="translate(1520.20,557.70) scale(1.080,1)" text-anchor="start">Fe</text>
<text transform="translate(1599.20,541.80) scale(1.054,1)" text-anchor="start">Fe</text>
<text transform="translate(1635.70,503.90) scale(1.110,1)" text-anchor="start">Ni</text>
<text transform="translate(1666.00,551.70) scale(1.087,1)" text-anchor="start">Co</text>
<text transform="translate(1724.80,561.00) scale(1.090,1)" text-anchor="start">Ni</text>
<text transform="translate(867.00,646.20) scale(1.050,1)" text-anchor="middle">0</text>
<text transform="translate(1004.80,646.20) scale(0.945,1)" text-anchor="middle">1.3</text>
<text transform="translate(1141.20,646.20) scale(1.000,1)" text-anchor="middle">2.6</text>
<text transform="translate(1279.40,646.20) scale(1.000,1)" text-anchor="middle">3.9</text>
<text transform="translate(1417.00,646.20) scale(1.020,1)" text-anchor="middle">5.2</text>
<text transform="translate(1553.10,646.20) scale(1.020,1)" text-anchor="middle">6.5</text>
<text transform="translate(1690.00,646.20) scale(0.955,1)" text-anchor="middle">7.8</text>
<text transform="translate(1337.50,682.40) scale(1.040,1)" text-anchor="middle">кэВ</text>
<text transform="translate(834,322.9) rotate(-90) scale(1.0674,1)" text-anchor="middle">Интенсивность, имп/с/эВ</text>
</svg>
</body></html>
